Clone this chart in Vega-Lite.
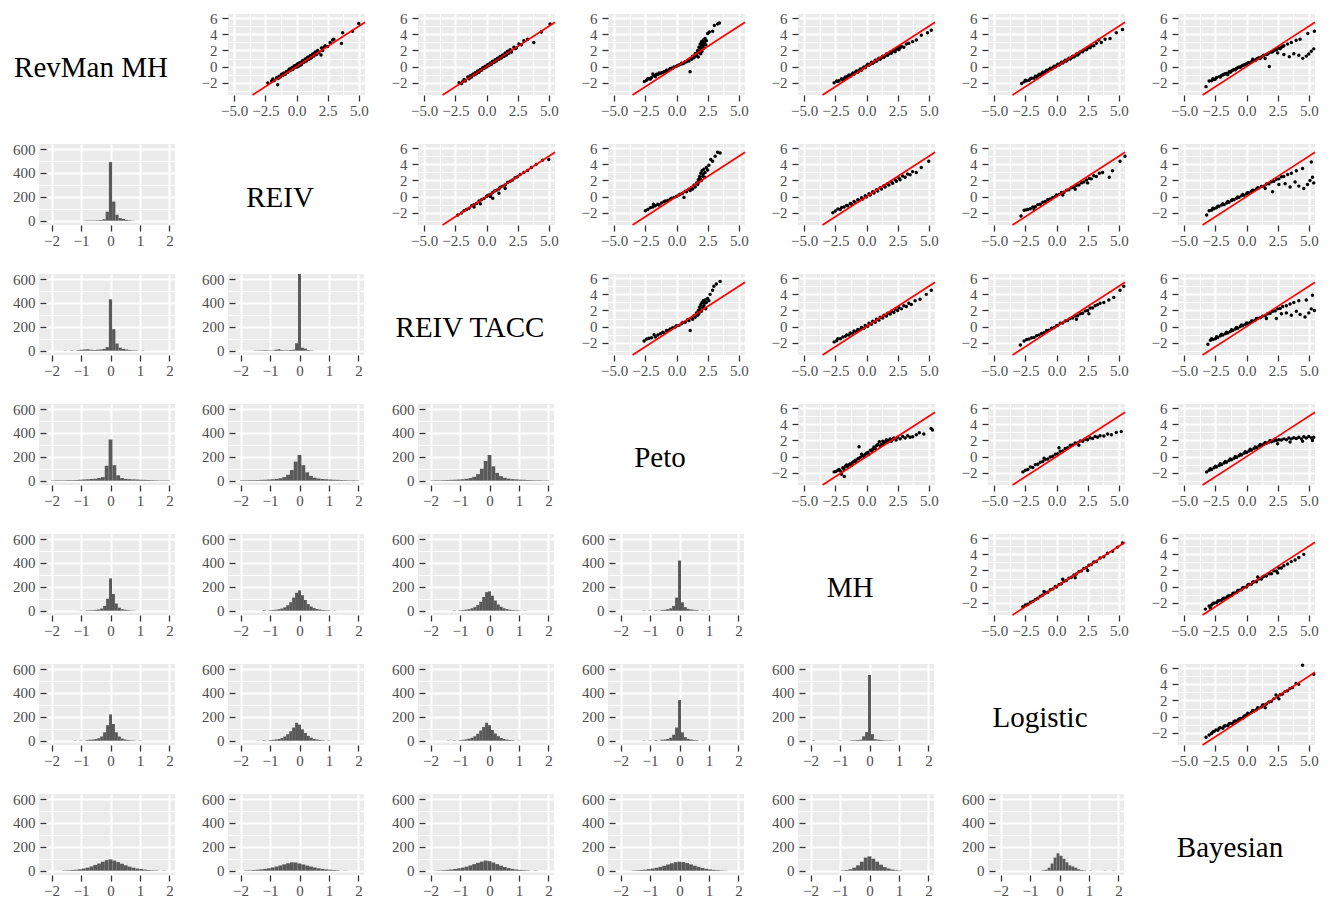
{
"$schema":"https://vega.github.io/schema/vega-lite/v6.json",
"padding":{"left":12,"top":11,"right":0,"bottom":0},
"background":"#FFFFFF",
"columns":7,
"bounds":"flush",
"spacing":{"row":22,"column":53},
"config":{
"view":{"stroke":null,"fill":"#EBEBEB"},
"axis":{"domain":false,"labelFont":"Liberation Serif","labelFontSize":15,"labelColor":"#4D4D4D","tickColor":"#333333","tickSize":6,"tickWidth":1.3,"labelPadding":5,"gridColor":"#FFFFFF","labelFlush":false,"labelOverlap":false,"labelBound":false},
"axisX":{"labelPadding":2},
"axisY":{"labelPadding":5},
"text":{"font":"Liberation Serif","fontSize":29,"color":"#000000","align":"center","baseline":"middle"}
},
"datasets":{
"idl":[{"x":-3.53,"y":-3.53},{"x":5.5,"y":5.5}],
"s01":[{"x":-2.3,"y":-2.05},{"x":-2.0,"y":-1.8},{"x":-1.9,"y":-1.55},{"x":-1.8,"y":-1.75},{"x":-1.6,"y":-1.4},{"x":-1.51,"y":-2.27},{"x":-1.45,"y":-1.45},{"x":-1.4,"y":-1.2},{"x":-1.3,"y":-1.3},{"x":-1.2,"y":-0.95},{"x":-1.1,"y":-1.1},{"x":-1.05,"y":-0.9},{"x":-1.0,"y":-0.8},{"x":-0.9,"y":-0.95},{"x":-0.8,"y":-0.6},{"x":-0.7,"y":-0.7},{"x":-0.65,"y":-0.55},{"x":-0.6,"y":-0.35},{"x":-0.55,"y":-0.3},{"x":-0.5,"y":-0.5},{"x":-0.4,"y":-0.2},{"x":-0.35,"y":-0.1},{"x":-0.3,"y":-0.35},{"x":-0.25,"y":-0.2},{"x":-0.2,"y":0.0},{"x":-0.15,"y":0.1},{"x":-0.1,"y":-0.1},{"x":0.0,"y":0.2},{"x":0.05,"y":-0.05},{"x":0.1,"y":0.35},{"x":0.15,"y":0.05},{"x":0.2,"y":0.15},{"x":0.25,"y":0.45},{"x":0.3,"y":0.5},{"x":0.35,"y":0.2},{"x":0.4,"y":0.3},{"x":0.45,"y":0.6},{"x":0.5,"y":0.75},{"x":0.6,"y":0.55},{"x":0.7,"y":0.95},{"x":0.75,"y":0.85},{"x":0.8,"y":0.7},{"x":0.85,"y":0.95},{"x":0.9,"y":1.15},{"x":1.0,"y":0.9},{"x":1.05,"y":1.2},{"x":1.1,"y":1.35},{"x":1.15,"y":1.05},{"x":1.2,"y":1.1},{"x":1.25,"y":1.4},{"x":1.3,"y":1.55},{"x":1.4,"y":1.3},{"x":1.45,"y":1.6},{"x":1.5,"y":1.8},{"x":1.6,"y":1.5},{"x":1.7,"y":2.0},{"x":1.75,"y":1.8},{"x":1.8,"y":1.7},{"x":1.97,"y":1.44},{"x":2.0,"y":2.3},{"x":2.1,"y":2.0},{"x":2.2,"y":2.4},{"x":2.3,"y":2.6},{"x":2.5,"y":2.5},{"x":2.7,"y":3.0},{"x":2.9,"y":3.3},{"x":3.0,"y":3.4},{"x":3.61,"y":2.88},{"x":3.71,"y":4.2},{"x":4.5,"y":4.4},{"x":5.0,"y":5.35}],
"s02":[{"x":-2.2,"y":-2.0},{"x":-2.0,"y":-2.1},{"x":-1.9,"y":-1.85},{"x":-1.8,"y":-1.6},{"x":-1.7,"y":-1.8},{"x":-1.5,"y":-1.3},{"x":-1.4,"y":-1.5},{"x":-1.35,"y":-1.35},{"x":-1.3,"y":-1.15},{"x":-1.2,"y":-1.3},{"x":-1.1,"y":-0.95},{"x":-1.0,"y":-1.05},{"x":-0.95,"y":-0.9},{"x":-0.9,"y":-0.75},{"x":-0.8,"y":-0.9},{"x":-0.7,"y":-0.55},{"x":-0.6,"y":-0.7},{"x":-0.55,"y":-0.5},{"x":-0.5,"y":-0.35},{"x":-0.4,"y":-0.45},{"x":-0.3,"y":-0.15},{"x":-0.2,"y":-0.25},{"x":-0.15,"y":-0.1},{"x":-0.1,"y":0.05},{"x":0.0,"y":-0.05},{"x":0.1,"y":0.25},{"x":0.2,"y":0.1},{"x":0.25,"y":0.3},{"x":0.3,"y":0.45},{"x":0.4,"y":0.3},{"x":0.45,"y":0.5},{"x":0.5,"y":0.65},{"x":0.6,"y":0.5},{"x":0.65,"y":0.6},{"x":0.7,"y":0.85},{"x":0.8,"y":0.7},{"x":0.85,"y":0.9},{"x":0.9,"y":1.05},{"x":1.0,"y":0.9},{"x":1.05,"y":1.1},{"x":1.1,"y":1.25},{"x":1.2,"y":1.05},{"x":1.3,"y":1.45},{"x":1.4,"y":1.25},{"x":1.45,"y":1.4},{"x":1.5,"y":1.7},{"x":1.6,"y":1.45},{"x":1.7,"y":1.9},{"x":1.8,"y":1.65},{"x":1.85,"y":1.9},{"x":1.9,"y":2.1},{"x":2.0,"y":1.8},{"x":2.2,"y":2.4},{"x":2.3,"y":2.2},{"x":2.4,"y":2.3},{"x":2.6,"y":2.8},{"x":2.8,"y":2.7},{"x":3.0,"y":3.2},{"x":3.3,"y":3.4},{"x":3.8,"y":3.0},{"x":4.4,"y":4.3},{"x":5.1,"y":5.3}],
"s03":[{"x":-2.58,"y":-1.86},{"x":-2.4,"y":-1.7},{"x":-2.3,"y":-1.5},{"x":-2.2,"y":-1.5},{"x":-2.1,"y":-1.55},{"x":-2.0,"y":-1.35},{"x":-1.9,"y":-0.91},{"x":-1.8,"y":-1.1},{"x":-1.7,"y":-1.25},{"x":-1.6,"y":-0.95},{"x":-1.5,"y":-1.0},{"x":-1.4,"y":-0.8},{"x":-1.3,"y":-0.85},{"x":-1.2,"y":-0.75},{"x":-1.1,"y":-0.75},{"x":-1.0,"y":-0.6},{"x":-0.9,"y":-0.7},{"x":-0.8,"y":-0.45},{"x":-0.7,"y":-0.5},{"x":-0.6,"y":-0.4},{"x":-0.5,"y":-0.25},{"x":-0.4,"y":-0.2},{"x":-0.3,"y":-0.2},{"x":-0.2,"y":-0.05},{"x":0.0,"y":0.05},{"x":0.1,"y":0.15},{"x":0.2,"y":0.2},{"x":0.3,"y":0.25},{"x":0.4,"y":0.4},{"x":0.5,"y":0.35},{"x":0.6,"y":0.45},{"x":0.7,"y":0.6},{"x":0.8,"y":0.6},{"x":0.9,"y":0.8},{"x":1.0,"y":0.7},{"x":1.09,"y":-0.63},{"x":1.1,"y":1.0},{"x":1.2,"y":0.9},{"x":1.25,"y":1.0},{"x":1.3,"y":1.3},{"x":1.4,"y":1.1},{"x":1.5,"y":1.6},{"x":1.55,"y":1.3},{"x":1.6,"y":1.4},{"x":1.65,"y":1.7},{"x":1.7,"y":2.0},{"x":1.75,"y":1.2},{"x":1.8,"y":2.4},{"x":1.8,"y":1.9},{"x":1.85,"y":1.7},{"x":1.9,"y":2.8},{"x":1.9,"y":2.4},{"x":1.95,"y":2.2},{"x":1.95,"y":1.6},{"x":2.0,"y":3.1},{"x":2.0,"y":2.6},{"x":2.05,"y":1.9},{"x":2.1,"y":2.6},{"x":2.1,"y":2.9},{"x":2.15,"y":3.3},{"x":2.2,"y":2.3},{"x":2.2,"y":2.7},{"x":2.25,"y":3.0},{"x":2.3,"y":3.5},{"x":2.35,"y":2.7},{"x":2.4,"y":3.2},{"x":2.5,"y":4.1},{"x":2.64,"y":4.3},{"x":2.9,"y":4.4},{"x":3.04,"y":5.1},{"x":3.3,"y":5.3},{"x":3.44,"y":5.4}],
"s04":[{"x":-2.6,"y":-2.0},{"x":-2.4,"y":-1.8},{"x":-2.3,"y":-1.85},{"x":-2.2,"y":-1.75},{"x":-2.0,"y":-1.5},{"x":-1.9,"y":-1.7},{"x":-1.8,"y":-1.5},{"x":-1.7,"y":-1.3},{"x":-1.6,"y":-1.45},{"x":-1.5,"y":-1.2},{"x":-1.4,"y":-1.05},{"x":-1.3,"y":-1.2},{"x":-1.2,"y":-1.0},{"x":-1.1,"y":-0.8},{"x":-1.0,"y":-0.95},{"x":-0.9,"y":-0.7},{"x":-0.8,"y":-0.55},{"x":-0.7,"y":-0.7},{"x":-0.6,"y":-0.5},{"x":-0.5,"y":-0.3},{"x":-0.4,"y":-0.45},{"x":-0.3,"y":-0.2},{"x":-0.2,"y":-0.05},{"x":-0.1,"y":-0.15},{"x":0.0,"y":0.1},{"x":0.1,"y":0.3},{"x":0.2,"y":0.15},{"x":0.3,"y":0.3},{"x":0.4,"y":0.55},{"x":0.5,"y":0.4},{"x":0.6,"y":0.55},{"x":0.7,"y":0.8},{"x":0.8,"y":0.65},{"x":0.9,"y":0.85},{"x":1.0,"y":1.05},{"x":1.1,"y":0.9},{"x":1.2,"y":1.1},{"x":1.3,"y":1.3},{"x":1.4,"y":1.15},{"x":1.5,"y":1.35},{"x":1.6,"y":1.55},{"x":1.7,"y":1.4},{"x":1.8,"y":1.6},{"x":1.9,"y":1.8},{"x":2.0,"y":1.65},{"x":2.1,"y":1.9},{"x":2.2,"y":2.05},{"x":2.3,"y":1.85},{"x":2.4,"y":2.15},{"x":2.5,"y":2.3},{"x":2.6,"y":2.1},{"x":2.7,"y":2.35},{"x":2.8,"y":2.5},{"x":3.0,"y":2.4},{"x":3.2,"y":2.8},{"x":3.4,"y":2.9},{"x":3.7,"y":3.1},{"x":4.0,"y":3.3},{"x":4.4,"y":3.9},{"x":4.9,"y":4.2},{"x":5.2,"y":4.5}],
"s05":[{"x":-2.8,"y":-2.1},{"x":-2.6,"y":-1.9},{"x":-2.5,"y":-1.7},{"x":-2.4,"y":-1.75},{"x":-2.2,"y":-1.7},{"x":-2.1,"y":-1.5},{"x":-2.0,"y":-1.45},{"x":-1.8,"y":-1.45},{"x":-1.7,"y":-1.2},{"x":-1.6,"y":-1.3},{"x":-1.5,"y":-1.15},{"x":-1.4,"y":-0.95},{"x":-1.3,"y":-1.0},{"x":-1.2,"y":-0.9},{"x":-1.1,"y":-0.7},{"x":-1.0,"y":-0.75},{"x":-0.9,"y":-0.65},{"x":-0.8,"y":-0.45},{"x":-0.7,"y":-0.5},{"x":-0.6,"y":-0.4},{"x":-0.5,"y":-0.2},{"x":-0.4,"y":-0.3},{"x":-0.3,"y":-0.15},{"x":-0.2,"y":0.05},{"x":-0.1,"y":-0.05},{"x":0.0,"y":0.1},{"x":0.1,"y":0.3},{"x":0.2,"y":0.2},{"x":0.3,"y":0.35},{"x":0.4,"y":0.55},{"x":0.5,"y":0.45},{"x":0.6,"y":0.6},{"x":0.7,"y":0.8},{"x":0.8,"y":0.7},{"x":0.9,"y":0.85},{"x":1.0,"y":1.05},{"x":1.1,"y":0.95},{"x":1.2,"y":1.1},{"x":1.3,"y":1.3},{"x":1.4,"y":1.2},{"x":1.5,"y":1.35},{"x":1.6,"y":1.55},{"x":1.7,"y":1.45},{"x":1.8,"y":1.6},{"x":1.9,"y":1.8},{"x":2.1,"y":1.85},{"x":2.2,"y":2.05},{"x":2.4,"y":2.1},{"x":2.5,"y":2.3},{"x":2.7,"y":2.35},{"x":2.8,"y":2.6},{"x":3.0,"y":2.6},{"x":3.2,"y":2.9},{"x":3.4,"y":3.3},{"x":3.6,"y":3.0},{"x":3.9,"y":3.4},{"x":4.3,"y":3.5},{"x":4.8,"y":4.2},{"x":5.3,"y":4.6}],
"s06":[{"x":-3.25,"y":-2.49},{"x":-3.0,"y":-1.8},{"x":-2.8,"y":-1.75},{"x":-2.7,"y":-1.5},{"x":-2.6,"y":-1.6},{"x":-2.5,"y":-1.55},{"x":-2.4,"y":-1.35},{"x":-2.2,"y":-1.25},{"x":-2.1,"y":-1.3},{"x":-2.0,"y":-1.1},{"x":-1.9,"y":-1.05},{"x":-1.8,"y":-0.95},{"x":-1.7,"y":-0.9},{"x":-1.6,"y":-0.85},{"x":-1.5,"y":-1.0},{"x":-1.4,"y":-0.65},{"x":-1.3,"y":-0.7},{"x":-1.2,"y":-0.55},{"x":-1.1,"y":-0.45},{"x":-1.0,"y":-0.35},{"x":-0.9,"y":-0.4},{"x":-0.8,"y":-0.25},{"x":-0.7,"y":-0.15},{"x":-0.6,"y":-0.05},{"x":-0.5,"y":-0.1},{"x":-0.4,"y":0.05},{"x":-0.3,"y":0.15},{"x":-0.2,"y":0.2},{"x":-0.1,"y":0.25},{"x":0.0,"y":0.35},{"x":0.1,"y":0.45},{"x":0.2,"y":0.5},{"x":0.3,"y":0.5},{"x":0.4,"y":0.6},{"x":0.5,"y":0.9},{"x":0.6,"y":0.8},{"x":0.7,"y":0.75},{"x":0.8,"y":0.9},{"x":0.9,"y":1.0},{"x":1.0,"y":1.1},{"x":1.1,"y":1.0},{"x":1.2,"y":1.2},{"x":1.3,"y":1.3},{"x":1.4,"y":1.4},{"x":1.5,"y":1.0},{"x":1.6,"y":1.5},{"x":1.7,"y":1.55},{"x":1.8,"y":1.7},{"x":1.83,"y":0.0},{"x":2.0,"y":1.8},{"x":2.1,"y":1.85},{"x":2.2,"y":2.0},{"x":2.3,"y":2.1},{"x":2.4,"y":2.1},{"x":2.5,"y":1.7},{"x":2.6,"y":2.3},{"x":2.7,"y":2.2},{"x":2.8,"y":2.4},{"x":2.9,"y":2.5},{"x":3.0,"y":2.6},{"x":3.0,"y":1.5},{"x":3.3,"y":2.8},{"x":3.44,"y":1.22},{"x":3.6,"y":3.0},{"x":3.8,"y":1.6},{"x":3.98,"y":3.28},{"x":4.2,"y":1.4},{"x":4.3,"y":3.4},{"x":4.52,"y":1.02},{"x":4.8,"y":1.3},{"x":4.92,"y":4.1},{"x":5.0,"y":1.55},{"x":5.2,"y":1.9},{"x":5.4,"y":2.2},{"x":5.45,"y":4.4}],
"s12":[{"x":-2.3,"y":-2.3},{"x":-2.0,"y":-2.05},{"x":-1.8,"y":-1.75},{"x":-1.6,"y":-1.6},{"x":-1.4,"y":-1.45},{"x":-1.2,"y":-1.15},{"x":-1.0,"y":-1.0},{"x":-1.0,"y":-1.3},{"x":-0.8,"y":-0.85},{"x":-0.6,"y":-0.55},{"x":-0.5,"y":-0.9},{"x":-0.4,"y":-0.4},{"x":-0.2,"y":-0.25},{"x":0.0,"y":0.0},{"x":0.1,"y":0.15},{"x":0.2,"y":0.2},{"x":0.3,"y":0.0},{"x":0.35,"y":0.3},{"x":0.5,"y":0.5},{"x":0.5,"y":-0.2},{"x":0.65,"y":0.7},{"x":0.8,"y":0.8},{"x":1.0,"y":0.95},{"x":1.0,"y":0.4},{"x":1.1,"y":1.15},{"x":1.3,"y":1.3},{"x":1.5,"y":1.45},{"x":1.5,"y":1.0},{"x":1.7,"y":1.75},{"x":1.9,"y":1.9},{"x":2.1,"y":2.05},{"x":2.3,"y":2.35},{"x":2.5,"y":2.45},{"x":2.7,"y":2.75},{"x":3.0,"y":3.0},{"x":3.3,"y":3.25},{"x":3.6,"y":3.6},{"x":4.0,"y":4.0},{"x":4.5,"y":4.5},{"x":5.0,"y":4.6}],
"s13":[{"x":-2.5,"y":-1.75},{"x":-2.3,"y":-1.6},{"x":-2.1,"y":-1.4},{"x":-1.9,"y":-1.3},{"x":-1.85,"y":-0.95},{"x":-1.7,"y":-1.15},{"x":-1.5,"y":-0.95},{"x":-1.4,"y":-1.05},{"x":-1.2,"y":-0.8},{"x":-1.0,"y":-0.65},{"x":-0.9,"y":-0.55},{"x":-0.7,"y":-0.5},{"x":-0.5,"y":-0.3},{"x":-0.4,"y":-0.2},{"x":-0.2,"y":-0.1},{"x":0.0,"y":0.05},{"x":0.2,"y":0.2},{"x":0.3,"y":0.3},{"x":0.5,"y":0.4},{"x":0.6,"y":-0.1},{"x":0.7,"y":0.65},{"x":0.8,"y":0.6},{"x":1.0,"y":0.9},{"x":1.1,"y":0.75},{"x":1.2,"y":1.1},{"x":1.3,"y":0.95},{"x":1.4,"y":1.4},{"x":1.5,"y":1.2},{"x":1.6,"y":1.7},{"x":1.7,"y":1.5},{"x":1.75,"y":2.1},{"x":1.8,"y":1.8},{"x":1.85,"y":2.5},{"x":1.9,"y":2.2},{"x":1.95,"y":2.9},{"x":2.0,"y":2.0},{"x":2.05,"y":3.2},{"x":2.1,"y":2.5},{"x":2.15,"y":2.8},{"x":2.2,"y":3.4},{"x":2.25,"y":2.4},{"x":2.3,"y":3.0},{"x":2.4,"y":3.6},{"x":2.5,"y":3.3},{"x":2.6,"y":3.9},{"x":2.75,"y":4.6},{"x":2.9,"y":4.4},{"x":3.1,"y":5.0},{"x":3.3,"y":5.5},{"x":3.5,"y":5.4}],
"s14":[{"x":-2.7,"y":-2.0},{"x":-2.5,"y":-1.8},{"x":-2.3,"y":-1.55},{"x":-2.1,"y":-1.6},{"x":-2.0,"y":-1.35},{"x":-1.8,"y":-1.3},{"x":-1.6,"y":-1.1},{"x":-1.5,"y":-1.15},{"x":-1.3,"y":-0.85},{"x":-1.2,"y":-0.95},{"x":-1.0,"y":-0.6},{"x":-0.9,"y":-0.75},{"x":-0.7,"y":-0.4},{"x":-0.6,"y":-0.5},{"x":-0.4,"y":-0.15},{"x":-0.3,"y":-0.3},{"x":-0.1,"y":0.1},{"x":0.0,"y":-0.05},{"x":0.2,"y":0.35},{"x":0.3,"y":0.2},{"x":0.5,"y":0.6},{"x":0.6,"y":0.45},{"x":0.8,"y":0.85},{"x":0.9,"y":0.7},{"x":1.1,"y":1.1},{"x":1.2,"y":0.95},{"x":1.4,"y":1.35},{"x":1.5,"y":1.2},{"x":1.7,"y":1.6},{"x":1.8,"y":1.45},{"x":2.0,"y":1.85},{"x":2.1,"y":1.65},{"x":2.3,"y":2.1},{"x":2.4,"y":1.9},{"x":2.6,"y":2.3},{"x":2.7,"y":2.1},{"x":2.9,"y":2.55},{"x":3.1,"y":2.4},{"x":3.3,"y":2.8},{"x":3.5,"y":2.7},{"x":3.7,"y":3.1},{"x":4.0,"y":3.0},{"x":4.4,"y":3.6},{"x":5.0,"y":4.4}],
"s15":[{"x":-2.85,"y":-2.4},{"x":-2.6,"y":-1.7},{"x":-2.45,"y":-1.65},{"x":-2.3,"y":-1.6},{"x":-2.1,"y":-1.5},{"x":-1.9,"y":-1.3},{"x":-1.8,"y":-1.6},{"x":-1.7,"y":-1.25},{"x":-1.5,"y":-1.0},{"x":-1.3,"y":-0.95},{"x":-1.1,"y":-0.7},{"x":-0.9,"y":-0.6},{"x":-0.7,"y":-0.4},{"x":-0.5,"y":-0.3},{"x":-0.3,"y":-0.1},{"x":-0.1,"y":0.0},{"x":0.0,"y":0.2},{"x":0.2,"y":0.25},{"x":0.4,"y":0.5},{"x":0.5,"y":0.2},{"x":0.6,"y":0.55},{"x":0.8,"y":0.8},{"x":1.0,"y":0.85},{"x":1.2,"y":1.1},{"x":1.4,"y":1.15},{"x":1.5,"y":0.9},{"x":1.6,"y":1.4},{"x":1.8,"y":1.45},{"x":2.0,"y":1.7},{"x":2.2,"y":1.8},{"x":2.4,"y":2.05},{"x":2.5,"y":1.7},{"x":2.64,"y":2.26},{"x":2.8,"y":2.2},{"x":3.0,"y":2.6},{"x":3.2,"y":2.5},{"x":3.44,"y":2.9},{"x":3.7,"y":3.0},{"x":4.24,"y":2.4},{"x":4.5,"y":3.2},{"x":5.1,"y":4.4},{"x":5.5,"y":5.0}],
"s16":[{"x":-3.2,"y":-2.3},{"x":-3.0,"y":-1.75},{"x":-2.8,"y":-1.7},{"x":-2.7,"y":-1.45},{"x":-2.6,"y":-1.5},{"x":-2.4,"y":-1.4},{"x":-2.3,"y":-1.2},{"x":-2.2,"y":-1.2},{"x":-2.0,"y":-1.05},{"x":-1.9,"y":-0.9},{"x":-1.8,"y":-1.0},{"x":-1.6,"y":-0.8},{"x":-1.5,"y":-0.6},{"x":-1.4,"y":-0.7},{"x":-1.2,"y":-0.5},{"x":-1.1,"y":-0.35},{"x":-1.0,"y":-0.4},{"x":-0.8,"y":-0.2},{"x":-0.7,"y":-0.05},{"x":-0.6,"y":-0.1},{"x":-0.4,"y":0.1},{"x":-0.3,"y":0.25},{"x":-0.2,"y":0.15},{"x":0.0,"y":0.35},{"x":0.1,"y":0.5},{"x":0.2,"y":0.45},{"x":0.4,"y":0.65},{"x":0.5,"y":0.8},{"x":0.6,"y":0.75},{"x":0.8,"y":0.95},{"x":0.9,"y":1.1},{"x":1.0,"y":1.05},{"x":1.2,"y":1.25},{"x":1.4,"y":1.3},{"x":1.5,"y":1.0},{"x":1.6,"y":1.55},{"x":1.8,"y":1.6},{"x":2.0,"y":1.85},{"x":2.1,"y":0.6},{"x":2.2,"y":1.9},{"x":2.4,"y":2.15},{"x":2.6,"y":2.2},{"x":2.6,"y":1.5},{"x":2.8,"y":2.45},{"x":3.0,"y":2.5},{"x":3.1,"y":1.6},{"x":3.3,"y":2.75},{"x":3.5,"y":1.2},{"x":3.6,"y":2.9},{"x":3.9,"y":1.8},{"x":4.0,"y":3.2},{"x":4.2,"y":1.3},{"x":4.5,"y":3.5},{"x":4.6,"y":1.0},{"x":4.9,"y":1.5},{"x":5.1,"y":2.0},{"x":5.2,"y":4.3},{"x":5.3,"y":2.4},{"x":5.4,"y":1.7}],
"s23":[{"x":-2.6,"y":-1.8},{"x":-2.4,"y":-1.55},{"x":-2.2,"y":-1.45},{"x":-2.0,"y":-1.4},{"x":-1.8,"y":-1.0},{"x":-1.7,"y":-1.3},{"x":-1.5,"y":-1.05},{"x":-1.3,"y":-0.9},{"x":-1.1,"y":-0.7},{"x":-1.0,"y":-0.8},{"x":-0.8,"y":-0.5},{"x":-0.6,"y":-0.45},{"x":-0.5,"y":-0.3},{"x":-0.3,"y":-0.15},{"x":-0.1,"y":-0.05},{"x":0.0,"y":0.1},{"x":0.2,"y":0.15},{"x":0.4,"y":0.35},{"x":0.5,"y":0.5},{"x":0.7,"y":0.55},{"x":0.9,"y":0.85},{"x":1.0,"y":0.75},{"x":1.1,"y":-0.5},{"x":1.2,"y":1.05},{"x":1.3,"y":0.9},{"x":1.4,"y":1.35},{"x":1.5,"y":1.15},{"x":1.6,"y":1.7},{"x":1.7,"y":1.4},{"x":1.75,"y":2.0},{"x":1.8,"y":1.6},{"x":1.85,"y":2.4},{"x":1.9,"y":2.1},{"x":1.95,"y":2.7},{"x":2.0,"y":1.9},{"x":2.05,"y":3.0},{"x":2.1,"y":2.4},{"x":2.15,"y":3.2},{"x":2.2,"y":2.6},{"x":2.25,"y":2.9},{"x":2.3,"y":3.3},{"x":2.35,"y":2.2},{"x":2.4,"y":3.0},{"x":2.5,"y":3.5},{"x":2.6,"y":3.2},{"x":2.7,"y":4.0},{"x":2.9,"y":4.5},{"x":3.0,"y":5.0},{"x":3.2,"y":5.3},{"x":3.5,"y":5.6}],
"s24":[{"x":-2.6,"y":-1.9},{"x":-2.4,"y":-1.75},{"x":-2.3,"y":-1.5},{"x":-2.1,"y":-1.5},{"x":-1.9,"y":-1.3},{"x":-1.7,"y":-1.2},{"x":-1.6,"y":-1.05},{"x":-1.4,"y":-1.05},{"x":-1.3,"y":-0.8},{"x":-1.1,"y":-0.85},{"x":-1.0,"y":-0.55},{"x":-0.8,"y":-0.65},{"x":-0.7,"y":-0.35},{"x":-0.5,"y":-0.4},{"x":-0.4,"y":-0.1},{"x":-0.2,"y":-0.2},{"x":-0.1,"y":0.15},{"x":0.1,"y":0.05},{"x":0.2,"y":0.4},{"x":0.4,"y":0.3},{"x":0.5,"y":0.65},{"x":0.7,"y":0.55},{"x":0.8,"y":0.9},{"x":1.0,"y":0.8},{"x":1.1,"y":1.15},{"x":1.3,"y":1.05},{"x":1.4,"y":1.4},{"x":1.6,"y":1.3},{"x":1.7,"y":1.65},{"x":1.9,"y":1.55},{"x":2.0,"y":1.9},{"x":2.2,"y":1.75},{"x":2.3,"y":2.15},{"x":2.5,"y":2.0},{"x":2.6,"y":2.35},{"x":2.8,"y":2.2},{"x":3.0,"y":2.6},{"x":3.2,"y":2.5},{"x":3.4,"y":2.9},{"x":3.6,"y":2.75},{"x":3.9,"y":3.2},{"x":4.3,"y":3.4},{"x":4.8,"y":4.0},{"x":5.2,"y":4.5}],
"s25":[{"x":-2.9,"y":-2.3},{"x":-2.6,"y":-1.8},{"x":-2.4,"y":-1.6},{"x":-2.2,"y":-1.55},{"x":-2.0,"y":-1.4},{"x":-1.8,"y":-1.35},{"x":-1.6,"y":-1.15},{"x":-1.4,"y":-1.05},{"x":-1.2,"y":-0.85},{"x":-1.0,"y":-0.75},{"x":-0.8,"y":-0.5},{"x":-0.6,"y":-0.45},{"x":-0.4,"y":-0.2},{"x":-0.2,"y":-0.15},{"x":0.0,"y":0.1},{"x":0.1,"y":0.15},{"x":0.3,"y":0.4},{"x":0.5,"y":0.45},{"x":0.7,"y":0.7},{"x":0.9,"y":0.75},{"x":1.1,"y":1.0},{"x":1.3,"y":1.05},{"x":1.5,"y":1.3},{"x":1.6,"y":0.9},{"x":1.7,"y":1.35},{"x":1.9,"y":1.6},{"x":2.1,"y":1.65},{"x":2.3,"y":1.95},{"x":2.5,"y":2.0},{"x":2.6,"y":1.6},{"x":2.7,"y":2.3},{"x":2.9,"y":2.3},{"x":3.1,"y":2.6},{"x":3.3,"y":2.7},{"x":3.5,"y":2.9},{"x":3.8,"y":3.0},{"x":4.2,"y":3.3},{"x":4.6,"y":3.6},{"x":5.1,"y":4.5},{"x":5.4,"y":5.0}],
"s26":[{"x":-3.1,"y":-2.2},{"x":-2.9,"y":-1.7},{"x":-2.8,"y":-1.5},{"x":-2.7,"y":-1.6},{"x":-2.5,"y":-1.5},{"x":-2.4,"y":-1.25},{"x":-2.3,"y":-1.35},{"x":-2.1,"y":-1.15},{"x":-2.0,"y":-0.95},{"x":-1.9,"y":-1.05},{"x":-1.7,"y":-0.9},{"x":-1.6,"y":-0.7},{"x":-1.5,"y":-0.8},{"x":-1.3,"y":-0.6},{"x":-1.2,"y":-0.4},{"x":-1.1,"y":-0.5},{"x":-0.9,"y":-0.3},{"x":-0.8,"y":-0.1},{"x":-0.7,"y":-0.2},{"x":-0.5,"y":0.0},{"x":-0.4,"y":0.2},{"x":-0.3,"y":0.1},{"x":-0.1,"y":0.25},{"x":0.0,"y":0.45},{"x":0.1,"y":0.4},{"x":0.3,"y":0.5},{"x":0.4,"y":0.7},{"x":0.5,"y":0.7},{"x":0.7,"y":0.8},{"x":0.8,"y":1.0},{"x":0.9,"y":1.0},{"x":1.1,"y":1.1},{"x":1.3,"y":1.3},{"x":1.5,"y":1.35},{"x":1.6,"y":1.0},{"x":1.7,"y":1.6},{"x":1.9,"y":1.65},{"x":2.1,"y":1.9},{"x":2.3,"y":1.95},{"x":2.4,"y":1.0},{"x":2.5,"y":2.2},{"x":2.7,"y":2.25},{"x":2.8,"y":1.6},{"x":2.9,"y":2.5},{"x":3.2,"y":2.6},{"x":3.2,"y":1.7},{"x":3.5,"y":2.8},{"x":3.6,"y":1.4},{"x":3.8,"y":3.0},{"x":4.0,"y":1.9},{"x":4.2,"y":3.2},{"x":4.3,"y":1.5},{"x":4.7,"y":1.2},{"x":4.8,"y":3.3},{"x":5.0,"y":1.7},{"x":5.2,"y":2.2},{"x":5.3,"y":3.9},{"x":5.45,"y":2.0}],
"s34":[{"x":-2.6,"y":-1.9},{"x":-2.45,"y":-1.86},{"x":-2.3,"y":-1.7},{"x":-2.2,"y":-1.6},{"x":-2.1,"y":-1.8},{"x":-2.0,"y":-2.2},{"x":-1.78,"y":-2.48},{"x":-1.9,"y":-1.4},{"x":-1.8,"y":-1.6},{"x":-1.7,"y":-1.2},{"x":-1.6,"y":-1.05},{"x":-1.5,"y":-1.3},{"x":-1.4,"y":-1.0},{"x":-1.3,"y":-0.9},{"x":-1.2,"y":-1.1},{"x":-1.1,"y":-0.7},{"x":-1.0,"y":-0.6},{"x":-0.9,"y":-0.45},{"x":-0.84,"y":-0.63},{"x":-0.7,"y":-0.3},{"x":-0.6,"y":1.22},{"x":-0.6,"y":-0.2},{"x":-0.5,"y":-0.1},{"x":-0.4,"y":0.3},{"x":-0.3,"y":0.1},{"x":-0.2,"y":0.0},{"x":-0.1,"y":0.3},{"x":0.0,"y":0.4},{"x":0.1,"y":0.5},{"x":0.2,"y":0.3},{"x":0.3,"y":0.8},{"x":0.4,"y":0.7},{"x":0.5,"y":0.9},{"x":0.6,"y":1.2},{"x":0.7,"y":1.0},{"x":0.8,"y":1.35},{"x":0.9,"y":1.5},{"x":1.03,"y":1.84},{"x":1.1,"y":1.3},{"x":1.2,"y":1.5},{"x":1.3,"y":1.9},{"x":1.4,"y":1.6},{"x":1.5,"y":1.85},{"x":1.6,"y":2.1},{"x":1.7,"y":1.8},{"x":1.8,"y":2.0},{"x":1.9,"y":2.2},{"x":2.0,"y":1.9},{"x":2.1,"y":2.15},{"x":2.2,"y":2.3},{"x":2.37,"y":2.05},{"x":2.5,"y":2.4},{"x":2.7,"y":2.2},{"x":2.9,"y":2.5},{"x":3.1,"y":2.3},{"x":3.3,"y":2.6},{"x":3.5,"y":2.4},{"x":3.71,"y":2.46},{"x":4.0,"y":2.7},{"x":4.24,"y":2.95},{"x":4.6,"y":2.8},{"x":5.18,"y":3.5},{"x":5.3,"y":3.3}],
"s35":[{"x":-2.7,"y":-1.9},{"x":-2.5,"y":-1.7},{"x":-2.3,"y":-1.6},{"x":-2.1,"y":-1.3},{"x":-1.9,"y":-1.35},{"x":-1.7,"y":-1.0},{"x":-1.5,"y":-0.95},{"x":-1.3,"y":-0.7},{"x":-1.1,"y":-0.6},{"x":-1.0,"y":-0.2},{"x":-0.9,"y":-0.35},{"x":-0.7,"y":-0.3},{"x":-0.5,"y":-0.05},{"x":-0.3,"y":0.05},{"x":-0.1,"y":0.3},{"x":0.1,"y":0.35},{"x":0.2,"y":1.1},{"x":0.3,"y":0.65},{"x":0.5,"y":0.7},{"x":0.7,"y":1.0},{"x":0.9,"y":1.1},{"x":1.1,"y":1.4},{"x":1.3,"y":1.45},{"x":1.5,"y":1.7},{"x":1.7,"y":1.7},{"x":1.8,"y":1.4},{"x":1.9,"y":1.95},{"x":2.1,"y":1.9},{"x":2.3,"y":2.15},{"x":2.5,"y":2.1},{"x":2.7,"y":2.35},{"x":2.9,"y":2.25},{"x":3.1,"y":2.5},{"x":3.3,"y":2.4},{"x":3.5,"y":2.6},{"x":3.8,"y":2.55},{"x":4.1,"y":2.8},{"x":4.4,"y":2.7},{"x":4.8,"y":3.0},{"x":5.2,"y":3.1}],
"s36":[{"x":-3.2,"y":-1.9},{"x":-3.0,"y":-1.7},{"x":-2.9,"y":-1.5},{"x":-2.8,"y":-1.6},{"x":-2.6,"y":-1.4},{"x":-2.5,"y":-1.2},{"x":-2.4,"y":-1.3},{"x":-2.2,"y":-1.1},{"x":-2.1,"y":-0.9},{"x":-2.0,"y":-1.0},{"x":-1.8,"y":-0.8},{"x":-1.7,"y":-0.6},{"x":-1.6,"y":-0.7},{"x":-1.4,"y":-0.5},{"x":-1.3,"y":-0.3},{"x":-1.2,"y":-0.4},{"x":-1.0,"y":-0.2},{"x":-0.9,"y":0.0},{"x":-0.8,"y":-0.1},{"x":-0.6,"y":0.1},{"x":-0.5,"y":0.3},{"x":-0.4,"y":0.2},{"x":-0.2,"y":0.4},{"x":-0.1,"y":0.6},{"x":0.0,"y":0.5},{"x":0.2,"y":0.7},{"x":0.3,"y":0.9},{"x":0.4,"y":0.8},{"x":0.6,"y":1.0},{"x":0.7,"y":1.2},{"x":0.8,"y":1.1},{"x":1.0,"y":1.3},{"x":1.1,"y":1.5},{"x":1.2,"y":1.4},{"x":1.4,"y":1.55},{"x":1.5,"y":1.75},{"x":1.6,"y":1.65},{"x":1.8,"y":1.8},{"x":1.9,"y":2.0},{"x":2.0,"y":1.85},{"x":2.2,"y":1.95},{"x":2.3,"y":2.15},{"x":2.4,"y":2.0},{"x":2.5,"y":1.6},{"x":2.6,"y":2.1},{"x":2.8,"y":2.05},{"x":3.0,"y":2.2},{"x":3.2,"y":2.1},{"x":3.4,"y":2.3},{"x":3.5,"y":1.8},{"x":3.6,"y":2.2},{"x":3.8,"y":2.35},{"x":4.0,"y":2.25},{"x":4.2,"y":2.4},{"x":4.4,"y":2.2},{"x":4.5,"y":1.9},{"x":4.6,"y":2.45},{"x":4.8,"y":2.3},{"x":5.0,"y":2.5},{"x":5.2,"y":2.3},{"x":5.3,"y":2.0},{"x":5.4,"y":2.4}],
"s45":[{"x":-2.7,"y":-2.5},{"x":-2.5,"y":-2.3},{"x":-2.3,"y":-2.2},{"x":-2.1,"y":-1.95},{"x":-1.9,"y":-1.85},{"x":-1.7,"y":-1.6},{"x":-1.5,"y":-1.45},{"x":-1.3,"y":-1.2},{"x":-1.1,"y":-1.05},{"x":-1.0,"y":-0.6},{"x":-0.9,"y":-0.8},{"x":-0.7,"y":-0.7},{"x":-0.5,"y":-0.4},{"x":-0.3,"y":-0.3},{"x":-0.1,"y":0.0},{"x":0.0,"y":-0.05},{"x":0.2,"y":0.25},{"x":0.4,"y":0.35},{"x":0.5,"y":0.9},{"x":0.6,"y":0.65},{"x":0.8,"y":0.75},{"x":1.0,"y":1.05},{"x":1.2,"y":1.15},{"x":1.4,"y":1.45},{"x":1.5,"y":1.1},{"x":1.6,"y":1.55},{"x":1.8,"y":1.85},{"x":2.0,"y":1.95},{"x":2.2,"y":2.25},{"x":2.4,"y":2.35},{"x":2.5,"y":2.0},{"x":2.6,"y":2.65},{"x":2.8,"y":2.75},{"x":3.0,"y":3.05},{"x":3.2,"y":3.1},{"x":3.5,"y":3.55},{"x":3.8,"y":3.7},{"x":4.1,"y":4.15},{"x":4.5,"y":4.4},{"x":4.9,"y":4.9},{"x":5.3,"y":5.4}],
"s46":[{"x":-3.3,"y":-2.8},{"x":-3.0,"y":-2.4},{"x":-2.9,"y":-2.7},{"x":-2.8,"y":-2.3},{"x":-2.7,"y":-2.1},{"x":-2.6,"y":-2.05},{"x":-2.4,"y":-2.0},{"x":-2.3,"y":-1.8},{"x":-2.2,"y":-1.75},{"x":-2.0,"y":-1.7},{"x":-1.9,"y":-1.5},{"x":-1.8,"y":-1.45},{"x":-1.6,"y":-1.4},{"x":-1.5,"y":-1.2},{"x":-1.4,"y":-1.15},{"x":-1.2,"y":-1.1},{"x":-1.1,"y":-0.85},{"x":-1.0,"y":-0.8},{"x":-0.8,"y":-0.75},{"x":-0.7,"y":-0.5},{"x":-0.6,"y":-0.45},{"x":-0.4,"y":-0.4},{"x":-0.3,"y":-0.15},{"x":-0.2,"y":-0.1},{"x":0.0,"y":-0.05},{"x":0.1,"y":0.2},{"x":0.2,"y":0.25},{"x":0.4,"y":0.3},{"x":0.5,"y":0.55},{"x":0.6,"y":0.6},{"x":0.8,"y":0.6},{"x":0.9,"y":1.2},{"x":1.0,"y":0.95},{"x":1.2,"y":0.95},{"x":1.3,"y":1.2},{"x":1.4,"y":1.3},{"x":1.6,"y":1.3},{"x":1.8,"y":1.6},{"x":2.0,"y":1.6},{"x":2.2,"y":1.95},{"x":2.4,"y":1.95},{"x":2.5,"y":1.7},{"x":2.6,"y":2.3},{"x":2.8,"y":2.3},{"x":3.0,"y":2.6},{"x":3.3,"y":2.8},{"x":3.6,"y":3.1},{"x":3.9,"y":3.3},{"x":4.2,"y":3.6},{"x":4.6,"y":4.0}],
"s56":[{"x":-3.25,"y":-2.56},{"x":-3.0,"y":-2.3},{"x":-2.8,"y":-2.1},{"x":-2.7,"y":-1.9},{"x":-2.6,"y":-1.85},{"x":-2.45,"y":-1.65},{"x":-2.3,"y":-1.7},{"x":-2.2,"y":-1.45},{"x":-2.1,"y":-1.4},{"x":-1.9,"y":-1.45},{"x":-1.8,"y":-1.2},{"x":-1.7,"y":-1.15},{"x":-1.5,"y":-1.15},{"x":-1.4,"y":-0.9},{"x":-1.3,"y":-0.85},{"x":-1.1,"y":-0.85},{"x":-1.0,"y":-0.6},{"x":-0.9,"y":-0.55},{"x":-0.7,"y":-0.5},{"x":-0.6,"y":-0.3},{"x":-0.5,"y":-0.25},{"x":-0.3,"y":-0.2},{"x":-0.2,"y":0.05},{"x":-0.1,"y":0.1},{"x":0.0,"y":0.2},{"x":0.1,"y":0.4},{"x":0.2,"y":0.35},{"x":0.4,"y":0.5},{"x":0.5,"y":0.75},{"x":0.6,"y":0.7},{"x":0.8,"y":0.85},{"x":0.9,"y":1.1},{"x":1.0,"y":1.05},{"x":1.2,"y":1.2},{"x":1.3,"y":1.45},{"x":1.4,"y":1.45},{"x":1.5,"y":1.1},{"x":1.6,"y":1.55},{"x":1.8,"y":1.8},{"x":2.0,"y":1.9},{"x":2.2,"y":2.2},{"x":2.37,"y":2.67},{"x":2.5,"y":2.4},{"x":2.6,"y":2.2},{"x":2.7,"y":2.7},{"x":2.9,"y":2.8},{"x":3.1,"y":3.1},{"x":3.3,"y":3.2},{"x":3.5,"y":3.5},{"x":3.7,"y":3.6},{"x":3.98,"y":4.1},{"x":4.2,"y":4.0},{"x":4.5,"y":6.37},{"x":5.4,"y":5.26}],
"h10":[{"a":-0.935,"b":-0.825,"n":2},{"a":-0.825,"b":-0.715,"n":3},{"a":-0.715,"b":-0.605,"n":3},{"a":-0.605,"b":-0.495,"n":3},{"a":-0.495,"b":-0.385,"n":4},{"a":-0.385,"b":-0.275,"n":6},{"a":-0.275,"b":-0.165,"n":12},{"a":-0.165,"b":-0.055,"n":75},{"a":-0.055,"b":0.055,"n":490},{"a":0.055,"b":0.165,"n":160},{"a":0.165,"b":0.275,"n":50},{"a":0.275,"b":0.385,"n":22},{"a":0.385,"b":0.495,"n":14},{"a":0.495,"b":0.605,"n":7},{"a":0.605,"b":0.715,"n":4},{"a":0.715,"b":0.825,"n":2}],
"h20":[{"a":-1.595,"b":-1.485,"n":2},{"a":-1.375,"b":-1.265,"n":3},{"a":-1.155,"b":-1.045,"n":5},{"a":-1.045,"b":-0.935,"n":8},{"a":-0.935,"b":-0.825,"n":10},{"a":-0.825,"b":-0.715,"n":12},{"a":-0.715,"b":-0.605,"n":8},{"a":-0.605,"b":-0.495,"n":6},{"a":-0.495,"b":-0.385,"n":8},{"a":-0.385,"b":-0.275,"n":10},{"a":-0.275,"b":-0.165,"n":15},{"a":-0.165,"b":-0.055,"n":30},{"a":-0.055,"b":0.055,"n":430},{"a":0.055,"b":0.165,"n":180},{"a":0.165,"b":0.275,"n":60},{"a":0.275,"b":0.385,"n":25},{"a":0.385,"b":0.495,"n":15},{"a":0.495,"b":0.605,"n":10},{"a":0.605,"b":0.715,"n":6},{"a":0.715,"b":0.825,"n":4},{"a":0.825,"b":0.935,"n":3},{"a":1.045,"b":1.155,"n":2}],
"h21":[{"a":-1.55,"b":-1.45,"n":2},{"a":-1.45,"b":-1.35,"n":3},{"a":-1.35,"b":-1.25,"n":3},{"a":-1.25,"b":-1.15,"n":3},{"a":-1.15,"b":-1.05,"n":3},{"a":-1.05,"b":-0.95,"n":3},{"a":-0.95,"b":-0.85,"n":3},{"a":-0.85,"b":-0.75,"n":8},{"a":-0.75,"b":-0.65,"n":12},{"a":-0.65,"b":-0.55,"n":6},{"a":-0.55,"b":-0.45,"n":4},{"a":-0.45,"b":-0.35,"n":3},{"a":-0.35,"b":-0.25,"n":5},{"a":-0.25,"b":-0.15,"n":8},{"a":-0.15,"b":-0.05,"n":62},{"a":-0.05,"b":0.05,"n":700},{"a":0.05,"b":0.15,"n":25},{"a":0.15,"b":0.25,"n":18},{"a":0.25,"b":0.35,"n":6},{"a":0.35,"b":0.45,"n":3}],
"h30":[{"a":-2.015,"b":-1.885,"n":3},{"a":-1.885,"b":-1.755,"n":3},{"a":-1.755,"b":-1.625,"n":4},{"a":-1.625,"b":-1.495,"n":4},{"a":-1.495,"b":-1.365,"n":5},{"a":-1.365,"b":-1.235,"n":5},{"a":-1.235,"b":-1.105,"n":6},{"a":-1.105,"b":-0.975,"n":8},{"a":-0.975,"b":-0.845,"n":10},{"a":-0.845,"b":-0.715,"n":12},{"a":-0.715,"b":-0.585,"n":14},{"a":-0.585,"b":-0.455,"n":16},{"a":-0.455,"b":-0.325,"n":22},{"a":-0.325,"b":-0.195,"n":30},{"a":-0.195,"b":-0.065,"n":125},{"a":-0.065,"b":0.065,"n":345},{"a":0.065,"b":0.195,"n":130},{"a":0.195,"b":0.325,"n":45},{"a":0.325,"b":0.455,"n":22},{"a":0.455,"b":0.585,"n":15},{"a":0.585,"b":0.715,"n":13},{"a":0.715,"b":0.845,"n":11},{"a":0.845,"b":0.975,"n":10},{"a":0.975,"b":1.105,"n":8},{"a":1.105,"b":1.235,"n":7},{"a":1.235,"b":1.365,"n":6},{"a":1.365,"b":1.495,"n":5},{"a":1.495,"b":1.625,"n":4},{"a":1.625,"b":1.755,"n":3},{"a":1.755,"b":1.885,"n":3},{"a":1.885,"b":2.015,"n":3}],
"h31":[{"a":-2.015,"b":-1.885,"n":4},{"a":-1.885,"b":-1.755,"n":4},{"a":-1.755,"b":-1.625,"n":5},{"a":-1.625,"b":-1.495,"n":5},{"a":-1.495,"b":-1.365,"n":6},{"a":-1.365,"b":-1.235,"n":7},{"a":-1.235,"b":-1.105,"n":8},{"a":-1.105,"b":-0.975,"n":10},{"a":-0.975,"b":-0.845,"n":12},{"a":-0.845,"b":-0.715,"n":15},{"a":-0.715,"b":-0.585,"n":20},{"a":-0.585,"b":-0.455,"n":30},{"a":-0.455,"b":-0.325,"n":50},{"a":-0.325,"b":-0.195,"n":90},{"a":-0.195,"b":-0.065,"n":160},{"a":-0.065,"b":0.065,"n":215},{"a":0.065,"b":0.195,"n":130},{"a":0.195,"b":0.325,"n":70},{"a":0.325,"b":0.455,"n":40},{"a":0.455,"b":0.585,"n":25},{"a":0.585,"b":0.715,"n":18},{"a":0.715,"b":0.845,"n":14},{"a":0.845,"b":0.975,"n":12},{"a":0.975,"b":1.105,"n":10},{"a":1.105,"b":1.235,"n":8},{"a":1.235,"b":1.365,"n":7},{"a":1.365,"b":1.495,"n":6},{"a":1.495,"b":1.625,"n":5},{"a":1.625,"b":1.755,"n":4},{"a":1.755,"b":1.885,"n":4},{"a":1.885,"b":2.015,"n":3}],
"h32":[{"a":-2.015,"b":-1.885,"n":3},{"a":-1.885,"b":-1.755,"n":4},{"a":-1.755,"b":-1.625,"n":4},{"a":-1.625,"b":-1.495,"n":5},{"a":-1.495,"b":-1.365,"n":6},{"a":-1.365,"b":-1.235,"n":7},{"a":-1.235,"b":-1.105,"n":8},{"a":-1.105,"b":-0.975,"n":10},{"a":-0.975,"b":-0.845,"n":12},{"a":-0.845,"b":-0.715,"n":16},{"a":-0.715,"b":-0.585,"n":22},{"a":-0.585,"b":-0.455,"n":32},{"a":-0.455,"b":-0.325,"n":55},{"a":-0.325,"b":-0.195,"n":100},{"a":-0.195,"b":-0.065,"n":165},{"a":-0.065,"b":0.065,"n":215},{"a":0.065,"b":0.195,"n":120},{"a":0.195,"b":0.325,"n":65},{"a":0.325,"b":0.455,"n":38},{"a":0.455,"b":0.585,"n":24},{"a":0.585,"b":0.715,"n":17},{"a":0.715,"b":0.845,"n":13},{"a":0.845,"b":0.975,"n":11},{"a":0.975,"b":1.105,"n":9},{"a":1.105,"b":1.235,"n":8},{"a":1.235,"b":1.365,"n":6},{"a":1.365,"b":1.495,"n":5},{"a":1.495,"b":1.625,"n":4},{"a":1.625,"b":1.755,"n":4},{"a":1.755,"b":1.885,"n":3},{"a":1.885,"b":2.015,"n":3}],
"h40":[{"a":-1.05,"b":-0.95,"n":2},{"a":-0.85,"b":-0.75,"n":3},{"a":-0.75,"b":-0.65,"n":4},{"a":-0.65,"b":-0.55,"n":5},{"a":-0.55,"b":-0.45,"n":7},{"a":-0.45,"b":-0.35,"n":10},{"a":-0.35,"b":-0.25,"n":18},{"a":-0.25,"b":-0.15,"n":40},{"a":-0.15,"b":-0.05,"n":100},{"a":-0.05,"b":0.05,"n":270},{"a":0.05,"b":0.15,"n":140},{"a":0.15,"b":0.25,"n":60},{"a":0.25,"b":0.35,"n":25},{"a":0.35,"b":0.45,"n":12},{"a":0.45,"b":0.55,"n":8},{"a":0.55,"b":0.65,"n":5},{"a":0.65,"b":0.75,"n":3},{"a":0.75,"b":0.85,"n":2}],
"h41":[{"a":-1.25,"b":-1.15,"n":3},{"a":-1.05,"b":-0.95,"n":4},{"a":-0.95,"b":-0.85,"n":6},{"a":-0.85,"b":-0.75,"n":8},{"a":-0.75,"b":-0.65,"n":12},{"a":-0.65,"b":-0.55,"n":18},{"a":-0.55,"b":-0.45,"n":28},{"a":-0.45,"b":-0.35,"n":45},{"a":-0.35,"b":-0.25,"n":70},{"a":-0.25,"b":-0.15,"n":110},{"a":-0.15,"b":-0.05,"n":150},{"a":-0.05,"b":0.05,"n":170},{"a":0.05,"b":0.15,"n":130},{"a":0.15,"b":0.25,"n":90},{"a":0.25,"b":0.35,"n":55},{"a":0.35,"b":0.45,"n":35},{"a":0.45,"b":0.55,"n":22},{"a":0.55,"b":0.65,"n":14},{"a":0.65,"b":0.75,"n":9},{"a":0.75,"b":0.85,"n":6},{"a":0.85,"b":0.95,"n":4},{"a":0.95,"b":1.05,"n":3},{"a":1.15,"b":1.25,"n":2}],
"h42":[{"a":-1.25,"b":-1.15,"n":3},{"a":-1.05,"b":-0.95,"n":4},{"a":-0.95,"b":-0.85,"n":6},{"a":-0.85,"b":-0.75,"n":9},{"a":-0.75,"b":-0.65,"n":13},{"a":-0.65,"b":-0.55,"n":20},{"a":-0.55,"b":-0.45,"n":30},{"a":-0.45,"b":-0.35,"n":48},{"a":-0.35,"b":-0.25,"n":75},{"a":-0.25,"b":-0.15,"n":115},{"a":-0.15,"b":-0.05,"n":155},{"a":-0.05,"b":0.05,"n":162},{"a":0.05,"b":0.15,"n":125},{"a":0.15,"b":0.25,"n":85},{"a":0.25,"b":0.35,"n":52},{"a":0.35,"b":0.45,"n":33},{"a":0.45,"b":0.55,"n":20},{"a":0.55,"b":0.65,"n":13},{"a":0.65,"b":0.75,"n":8},{"a":0.75,"b":0.85,"n":5},{"a":0.85,"b":0.95,"n":4},{"a":0.95,"b":1.05,"n":3},{"a":1.15,"b":1.25,"n":2}],
"h43":[{"a":-1.25,"b":-1.15,"n":2},{"a":-1.05,"b":-0.95,"n":3},{"a":-0.85,"b":-0.75,"n":4},{"a":-0.65,"b":-0.55,"n":6},{"a":-0.55,"b":-0.45,"n":8},{"a":-0.45,"b":-0.35,"n":12},{"a":-0.35,"b":-0.25,"n":20},{"a":-0.25,"b":-0.15,"n":40},{"a":-0.15,"b":-0.05,"n":110},{"a":-0.05,"b":0.05,"n":420},{"a":0.05,"b":0.15,"n":70},{"a":0.15,"b":0.25,"n":30},{"a":0.25,"b":0.35,"n":15},{"a":0.35,"b":0.45,"n":10},{"a":0.45,"b":0.55,"n":7},{"a":0.55,"b":0.65,"n":5},{"a":0.75,"b":0.85,"n":3},{"a":0.95,"b":1.05,"n":2}],
"h50":[{"a":-1.25,"b":-1.15,"n":2},{"a":-1.05,"b":-0.95,"n":3},{"a":-0.85,"b":-0.75,"n":5},{"a":-0.75,"b":-0.65,"n":7},{"a":-0.65,"b":-0.55,"n":10},{"a":-0.55,"b":-0.45,"n":14},{"a":-0.45,"b":-0.35,"n":20},{"a":-0.35,"b":-0.25,"n":35},{"a":-0.25,"b":-0.15,"n":70},{"a":-0.15,"b":-0.05,"n":130},{"a":-0.05,"b":0.05,"n":220},{"a":0.05,"b":0.15,"n":140},{"a":0.15,"b":0.25,"n":70},{"a":0.25,"b":0.35,"n":35},{"a":0.35,"b":0.45,"n":18},{"a":0.45,"b":0.55,"n":10},{"a":0.55,"b":0.65,"n":6},{"a":0.65,"b":0.75,"n":4},{"a":0.75,"b":0.85,"n":3},{"a":0.95,"b":1.05,"n":2}],
"h51":[{"a":-1.45,"b":-1.35,"n":2},{"a":-1.25,"b":-1.15,"n":3},{"a":-1.05,"b":-0.95,"n":5},{"a":-0.95,"b":-0.85,"n":7},{"a":-0.85,"b":-0.75,"n":10},{"a":-0.75,"b":-0.65,"n":15},{"a":-0.65,"b":-0.55,"n":22},{"a":-0.55,"b":-0.45,"n":35},{"a":-0.45,"b":-0.35,"n":55},{"a":-0.35,"b":-0.25,"n":80},{"a":-0.25,"b":-0.15,"n":110},{"a":-0.15,"b":-0.05,"n":150},{"a":-0.05,"b":0.05,"n":135},{"a":0.05,"b":0.15,"n":95},{"a":0.15,"b":0.25,"n":65},{"a":0.25,"b":0.35,"n":40},{"a":0.35,"b":0.45,"n":25},{"a":0.45,"b":0.55,"n":15},{"a":0.55,"b":0.65,"n":10},{"a":0.65,"b":0.75,"n":6},{"a":0.75,"b":0.85,"n":4},{"a":0.95,"b":1.05,"n":2}],
"h52":[{"a":-1.45,"b":-1.35,"n":2},{"a":-1.25,"b":-1.15,"n":3},{"a":-1.05,"b":-0.95,"n":5},{"a":-0.95,"b":-0.85,"n":7},{"a":-0.85,"b":-0.75,"n":11},{"a":-0.75,"b":-0.65,"n":16},{"a":-0.65,"b":-0.55,"n":24},{"a":-0.55,"b":-0.45,"n":37},{"a":-0.45,"b":-0.35,"n":58},{"a":-0.35,"b":-0.25,"n":85},{"a":-0.25,"b":-0.15,"n":115},{"a":-0.15,"b":-0.05,"n":150},{"a":-0.05,"b":0.05,"n":130},{"a":0.05,"b":0.15,"n":90},{"a":0.15,"b":0.25,"n":60},{"a":0.25,"b":0.35,"n":38},{"a":0.35,"b":0.45,"n":23},{"a":0.45,"b":0.55,"n":14},{"a":0.55,"b":0.65,"n":9},{"a":0.65,"b":0.75,"n":6},{"a":0.75,"b":0.85,"n":4},{"a":0.95,"b":1.05,"n":2}],
"h53":[{"a":-1.25,"b":-1.15,"n":2},{"a":-1.05,"b":-0.95,"n":3},{"a":-0.85,"b":-0.75,"n":5},{"a":-0.65,"b":-0.55,"n":8},{"a":-0.55,"b":-0.45,"n":10},{"a":-0.45,"b":-0.35,"n":15},{"a":-0.35,"b":-0.25,"n":25},{"a":-0.25,"b":-0.15,"n":50},{"a":-0.15,"b":-0.05,"n":110},{"a":-0.05,"b":0.05,"n":340},{"a":0.05,"b":0.15,"n":70},{"a":0.15,"b":0.25,"n":30},{"a":0.25,"b":0.35,"n":15},{"a":0.35,"b":0.45,"n":10},{"a":0.45,"b":0.55,"n":6},{"a":0.55,"b":0.65,"n":4},{"a":0.75,"b":0.85,"n":2}],
"h54":[{"a":-1.95,"b":-1.85,"n":3},{"a":-1.05,"b":-0.95,"n":2},{"a":-0.65,"b":-0.55,"n":4},{"a":-0.55,"b":-0.45,"n":5},{"a":-0.45,"b":-0.35,"n":6},{"a":-0.35,"b":-0.25,"n":8},{"a":-0.25,"b":-0.15,"n":37},{"a":-0.15,"b":-0.05,"n":72},{"a":-0.05,"b":0.05,"n":550},{"a":0.05,"b":0.15,"n":55},{"a":0.15,"b":0.25,"n":12},{"a":0.25,"b":0.35,"n":8},{"a":0.35,"b":0.45,"n":6},{"a":0.45,"b":0.55,"n":4},{"a":0.55,"b":0.65,"n":3},{"a":0.65,"b":0.75,"n":3},{"a":0.75,"b":0.85,"n":2}],
"h60":[{"a":-1.625,"b":-1.495,"n":3},{"a":-1.495,"b":-1.365,"n":4},{"a":-1.365,"b":-1.235,"n":6},{"a":-1.235,"b":-1.105,"n":8},{"a":-1.105,"b":-0.975,"n":12},{"a":-0.975,"b":-0.845,"n":18},{"a":-0.845,"b":-0.715,"n":25},{"a":-0.715,"b":-0.585,"n":35},{"a":-0.585,"b":-0.455,"n":48},{"a":-0.455,"b":-0.325,"n":60},{"a":-0.325,"b":-0.195,"n":75},{"a":-0.195,"b":-0.065,"n":88},{"a":-0.065,"b":0.065,"n":95},{"a":0.065,"b":0.195,"n":85},{"a":0.195,"b":0.325,"n":72},{"a":0.325,"b":0.455,"n":58},{"a":0.455,"b":0.585,"n":45},{"a":0.585,"b":0.715,"n":34},{"a":0.715,"b":0.845,"n":25},{"a":0.845,"b":0.975,"n":18},{"a":0.975,"b":1.105,"n":13},{"a":1.105,"b":1.235,"n":9},{"a":1.235,"b":1.365,"n":6},{"a":1.365,"b":1.495,"n":4},{"a":1.495,"b":1.625,"n":3},{"a":1.755,"b":1.885,"n":2}],
"h61":[{"a":-1.885,"b":-1.755,"n":3},{"a":-1.755,"b":-1.625,"n":4},{"a":-1.625,"b":-1.495,"n":6},{"a":-1.495,"b":-1.365,"n":8},{"a":-1.365,"b":-1.235,"n":11},{"a":-1.235,"b":-1.105,"n":15},{"a":-1.105,"b":-0.975,"n":20},{"a":-0.975,"b":-0.845,"n":27},{"a":-0.845,"b":-0.715,"n":35},{"a":-0.715,"b":-0.585,"n":44},{"a":-0.585,"b":-0.455,"n":53},{"a":-0.455,"b":-0.325,"n":62},{"a":-0.325,"b":-0.195,"n":70},{"a":-0.195,"b":-0.065,"n":68},{"a":-0.065,"b":0.065,"n":60},{"a":0.065,"b":0.195,"n":52},{"a":0.195,"b":0.325,"n":43},{"a":0.325,"b":0.455,"n":35},{"a":0.455,"b":0.585,"n":27},{"a":0.585,"b":0.715,"n":20},{"a":0.715,"b":0.845,"n":15},{"a":0.845,"b":0.975,"n":11},{"a":0.975,"b":1.105,"n":8},{"a":1.105,"b":1.235,"n":6},{"a":1.235,"b":1.365,"n":4},{"a":1.495,"b":1.625,"n":2}],
"h62":[{"a":-1.885,"b":-1.755,"n":2},{"a":-1.755,"b":-1.625,"n":3},{"a":-1.625,"b":-1.495,"n":5},{"a":-1.495,"b":-1.365,"n":7},{"a":-1.365,"b":-1.235,"n":10},{"a":-1.235,"b":-1.105,"n":14},{"a":-1.105,"b":-0.975,"n":19},{"a":-0.975,"b":-0.845,"n":26},{"a":-0.845,"b":-0.715,"n":34},{"a":-0.715,"b":-0.585,"n":44},{"a":-0.585,"b":-0.455,"n":55},{"a":-0.455,"b":-0.325,"n":66},{"a":-0.325,"b":-0.195,"n":76},{"a":-0.195,"b":-0.065,"n":85},{"a":-0.065,"b":0.065,"n":80},{"a":0.065,"b":0.195,"n":68},{"a":0.195,"b":0.325,"n":55},{"a":0.325,"b":0.455,"n":42},{"a":0.455,"b":0.585,"n":31},{"a":0.585,"b":0.715,"n":22},{"a":0.715,"b":0.845,"n":15},{"a":0.845,"b":0.975,"n":10},{"a":0.975,"b":1.105,"n":7},{"a":1.105,"b":1.235,"n":5},{"a":1.235,"b":1.365,"n":3},{"a":1.495,"b":1.625,"n":2}],
"h63":[{"a":-1.625,"b":-1.495,"n":3},{"a":-1.495,"b":-1.365,"n":4},{"a":-1.365,"b":-1.235,"n":6},{"a":-1.235,"b":-1.105,"n":9},{"a":-1.105,"b":-0.975,"n":13},{"a":-0.975,"b":-0.845,"n":18},{"a":-0.845,"b":-0.715,"n":24},{"a":-0.715,"b":-0.585,"n":32},{"a":-0.585,"b":-0.455,"n":41},{"a":-0.455,"b":-0.325,"n":52},{"a":-0.325,"b":-0.195,"n":62},{"a":-0.195,"b":-0.065,"n":71},{"a":-0.065,"b":0.065,"n":75},{"a":0.065,"b":0.195,"n":72},{"a":0.195,"b":0.325,"n":64},{"a":0.325,"b":0.455,"n":53},{"a":0.455,"b":0.585,"n":42},{"a":0.585,"b":0.715,"n":32},{"a":0.715,"b":0.845,"n":23},{"a":0.845,"b":0.975,"n":16},{"a":0.975,"b":1.105,"n":11},{"a":1.105,"b":1.235,"n":7},{"a":1.235,"b":1.365,"n":5},{"a":1.365,"b":1.495,"n":3},{"a":1.495,"b":1.625,"n":2}],
"h64":[{"a":-0.975,"b":-0.845,"n":3},{"a":-0.845,"b":-0.715,"n":6},{"a":-0.715,"b":-0.585,"n":12},{"a":-0.585,"b":-0.455,"n":25},{"a":-0.455,"b":-0.325,"n":45},{"a":-0.325,"b":-0.195,"n":75},{"a":-0.195,"b":-0.065,"n":110},{"a":-0.065,"b":0.065,"n":120},{"a":0.065,"b":0.195,"n":100},{"a":0.195,"b":0.325,"n":75},{"a":0.325,"b":0.455,"n":50},{"a":0.455,"b":0.585,"n":30},{"a":0.585,"b":0.715,"n":18},{"a":0.715,"b":0.845,"n":10},{"a":0.845,"b":0.975,"n":5},{"a":0.975,"b":1.105,"n":3}],
"h65":[{"a":-0.6,"b":-0.5,"n":3},{"a":-0.5,"b":-0.4,"n":8},{"a":-0.4,"b":-0.3,"n":25},{"a":-0.3,"b":-0.2,"n":60},{"a":-0.2,"b":-0.1,"n":110},{"a":-0.1,"b":0.0,"n":145},{"a":0.0,"b":0.1,"n":125},{"a":0.1,"b":0.2,"n":100},{"a":0.2,"b":0.3,"n":70},{"a":0.3,"b":0.4,"n":45},{"a":0.4,"b":0.5,"n":35},{"a":0.5,"b":0.6,"n":25},{"a":0.6,"b":0.7,"n":12},{"a":0.7,"b":0.8,"n":6},{"a":0.8,"b":0.9,"n":3},{"a":1.0,"b":1.1,"n":2},{"a":1.5,"b":1.6,"n":2},{"a":1.8,"b":1.9,"n":2}]
},
"concat":[
{"width":104,"height":108,"view":{"fill":"transparent","stroke":"transparent"},"data":{"values":[{"m":"RevMan MH"}]},"mark":{"type":"text"},"encoding":{"text":{"field":"m","type":"nominal"}}},
{"width":137,"height":81,"resolve":{"axis":{"x":"independent","y":"independent"}},"layer":[{"data":{"name":"s01"},"mark":{"type":"circle","size":12,"color":"#000000","opacity":1},"encoding":{"x":{"field":"x","type":"quantitative","title":null,"scale":{"domain":[-5.5,5.5],"nice":false,"zero":false},"axis":{"labelOverlap":false,"values":[-5,-3.75,-2.5,-1.25,0,1.25,2.5,3.75,5],"format":".1f","labelExpr":"datum.value%2.5 ? '' : datum.label","tickOpacity":{"condition":{"test":"datum.value%2.5","value":0},"value":1},"gridWidth":{"condition":{"test":"datum.value%2.5","value":1},"value":2}}},"y":{"field":"y","type":"quantitative","title":null,"scale":{"domain":[-3.53,6.53],"nice":false,"zero":false},"axis":{"labelOverlap":false,"values":[-3,-2,-1,0,1,2,3,4,5,6],"format":"d","labelExpr":"datum.value%2 ? '' : datum.label","tickOpacity":{"condition":{"test":"datum.value%2","value":0},"value":1},"gridWidth":{"condition":{"test":"datum.value%2","value":1},"value":2}}}}},{"data":{"name":"idl"},"mark":{"type":"line","color":"#FF0000","strokeWidth":1.6},"encoding":{"x":{"field":"x","type":"quantitative","axis":null},"y":{"field":"y","type":"quantitative","axis":null}}}]},
{"width":137,"height":81,"resolve":{"axis":{"x":"independent","y":"independent"}},"layer":[{"data":{"name":"s02"},"mark":{"type":"circle","size":12,"color":"#000000","opacity":1},"encoding":{"x":{"field":"x","type":"quantitative","title":null,"scale":{"domain":[-5.5,5.5],"nice":false,"zero":false},"axis":{"labelOverlap":false,"values":[-5,-3.75,-2.5,-1.25,0,1.25,2.5,3.75,5],"format":".1f","labelExpr":"datum.value%2.5 ? '' : datum.label","tickOpacity":{"condition":{"test":"datum.value%2.5","value":0},"value":1},"gridWidth":{"condition":{"test":"datum.value%2.5","value":1},"value":2}}},"y":{"field":"y","type":"quantitative","title":null,"scale":{"domain":[-3.53,6.53],"nice":false,"zero":false},"axis":{"labelOverlap":false,"values":[-3,-2,-1,0,1,2,3,4,5,6],"format":"d","labelExpr":"datum.value%2 ? '' : datum.label","tickOpacity":{"condition":{"test":"datum.value%2","value":0},"value":1},"gridWidth":{"condition":{"test":"datum.value%2","value":1},"value":2}}}}},{"data":{"name":"idl"},"mark":{"type":"line","color":"#FF0000","strokeWidth":1.6},"encoding":{"x":{"field":"x","type":"quantitative","axis":null},"y":{"field":"y","type":"quantitative","axis":null}}}]},
{"width":137,"height":81,"resolve":{"axis":{"x":"independent","y":"independent"}},"layer":[{"data":{"name":"s03"},"mark":{"type":"circle","size":12,"color":"#000000","opacity":1},"encoding":{"x":{"field":"x","type":"quantitative","title":null,"scale":{"domain":[-5.5,5.5],"nice":false,"zero":false},"axis":{"labelOverlap":false,"values":[-5,-3.75,-2.5,-1.25,0,1.25,2.5,3.75,5],"format":".1f","labelExpr":"datum.value%2.5 ? '' : datum.label","tickOpacity":{"condition":{"test":"datum.value%2.5","value":0},"value":1},"gridWidth":{"condition":{"test":"datum.value%2.5","value":1},"value":2}}},"y":{"field":"y","type":"quantitative","title":null,"scale":{"domain":[-3.53,6.53],"nice":false,"zero":false},"axis":{"labelOverlap":false,"values":[-3,-2,-1,0,1,2,3,4,5,6],"format":"d","labelExpr":"datum.value%2 ? '' : datum.label","tickOpacity":{"condition":{"test":"datum.value%2","value":0},"value":1},"gridWidth":{"condition":{"test":"datum.value%2","value":1},"value":2}}}}},{"data":{"name":"idl"},"mark":{"type":"line","color":"#FF0000","strokeWidth":1.6},"encoding":{"x":{"field":"x","type":"quantitative","axis":null},"y":{"field":"y","type":"quantitative","axis":null}}}]},
{"width":137,"height":81,"resolve":{"axis":{"x":"independent","y":"independent"}},"layer":[{"data":{"name":"s04"},"mark":{"type":"circle","size":12,"color":"#000000","opacity":1},"encoding":{"x":{"field":"x","type":"quantitative","title":null,"scale":{"domain":[-5.5,5.5],"nice":false,"zero":false},"axis":{"labelOverlap":false,"values":[-5,-3.75,-2.5,-1.25,0,1.25,2.5,3.75,5],"format":".1f","labelExpr":"datum.value%2.5 ? '' : datum.label","tickOpacity":{"condition":{"test":"datum.value%2.5","value":0},"value":1},"gridWidth":{"condition":{"test":"datum.value%2.5","value":1},"value":2}}},"y":{"field":"y","type":"quantitative","title":null,"scale":{"domain":[-3.53,6.53],"nice":false,"zero":false},"axis":{"labelOverlap":false,"values":[-3,-2,-1,0,1,2,3,4,5,6],"format":"d","labelExpr":"datum.value%2 ? '' : datum.label","tickOpacity":{"condition":{"test":"datum.value%2","value":0},"value":1},"gridWidth":{"condition":{"test":"datum.value%2","value":1},"value":2}}}}},{"data":{"name":"idl"},"mark":{"type":"line","color":"#FF0000","strokeWidth":1.6},"encoding":{"x":{"field":"x","type":"quantitative","axis":null},"y":{"field":"y","type":"quantitative","axis":null}}}]},
{"width":137,"height":81,"resolve":{"axis":{"x":"independent","y":"independent"}},"layer":[{"data":{"name":"s05"},"mark":{"type":"circle","size":12,"color":"#000000","opacity":1},"encoding":{"x":{"field":"x","type":"quantitative","title":null,"scale":{"domain":[-5.5,5.5],"nice":false,"zero":false},"axis":{"labelOverlap":false,"values":[-5,-3.75,-2.5,-1.25,0,1.25,2.5,3.75,5],"format":".1f","labelExpr":"datum.value%2.5 ? '' : datum.label","tickOpacity":{"condition":{"test":"datum.value%2.5","value":0},"value":1},"gridWidth":{"condition":{"test":"datum.value%2.5","value":1},"value":2}}},"y":{"field":"y","type":"quantitative","title":null,"scale":{"domain":[-3.53,6.53],"nice":false,"zero":false},"axis":{"labelOverlap":false,"values":[-3,-2,-1,0,1,2,3,4,5,6],"format":"d","labelExpr":"datum.value%2 ? '' : datum.label","tickOpacity":{"condition":{"test":"datum.value%2","value":0},"value":1},"gridWidth":{"condition":{"test":"datum.value%2","value":1},"value":2}}}}},{"data":{"name":"idl"},"mark":{"type":"line","color":"#FF0000","strokeWidth":1.6},"encoding":{"x":{"field":"x","type":"quantitative","axis":null},"y":{"field":"y","type":"quantitative","axis":null}}}]},
{"width":137,"height":81,"resolve":{"axis":{"x":"independent","y":"independent"}},"layer":[{"data":{"name":"s06"},"mark":{"type":"circle","size":12,"color":"#000000","opacity":1},"encoding":{"x":{"field":"x","type":"quantitative","title":null,"scale":{"domain":[-5.5,5.5],"nice":false,"zero":false},"axis":{"labelOverlap":false,"values":[-5,-3.75,-2.5,-1.25,0,1.25,2.5,3.75,5],"format":".1f","labelExpr":"datum.value%2.5 ? '' : datum.label","tickOpacity":{"condition":{"test":"datum.value%2.5","value":0},"value":1},"gridWidth":{"condition":{"test":"datum.value%2.5","value":1},"value":2}}},"y":{"field":"y","type":"quantitative","title":null,"scale":{"domain":[-3.53,6.53],"nice":false,"zero":false},"axis":{"labelOverlap":false,"values":[-3,-2,-1,0,1,2,3,4,5,6],"format":"d","labelExpr":"datum.value%2 ? '' : datum.label","tickOpacity":{"condition":{"test":"datum.value%2","value":0},"value":1},"gridWidth":{"condition":{"test":"datum.value%2","value":1},"value":2}}}}},{"data":{"name":"idl"},"mark":{"type":"line","color":"#FF0000","strokeWidth":1.6},"encoding":{"x":{"field":"x","type":"quantitative","axis":null},"y":{"field":"y","type":"quantitative","axis":null}}}]},

{"width":136,"height":81,"data":{"name":"h10"},"mark":{"type":"bar","color":"#595959","clip":true},"encoding":{"x":{"field":"a","type":"quantitative","title":null,"scale":{"domain":[-2.428,2.19],"nice":false,"zero":false},"axis":{"labelOverlap":false,"values":[-2,-1.5,-1,-0.5,0,0.5,1,1.5,2],"format":"d","labelExpr":"datum.value%1 ? '' : datum.label","tickOpacity":{"condition":{"test":"datum.value%1","value":0},"value":1},"gridWidth":{"condition":{"test":"datum.value%1","value":1},"value":2}}},"x2":{"field":"b"},"y":{"field":"n","type":"quantitative","title":null,"scale":{"domain":[-36,642],"nice":false,"zero":false},"axis":{"labelOverlap":false,"offset":-7,"values":[0,100,200,300,400,500,600],"format":"d","labelExpr":"datum.value%200 ? '' : datum.label","tickOpacity":{"condition":{"test":"datum.value%200","value":0},"value":1},"gridWidth":{"condition":{"test":"datum.value%200","value":1},"value":2}}},"y2":{"datum":0}}},
{"width":104,"height":108,"view":{"fill":"transparent","stroke":"transparent"},"data":{"values":[{"m":"REIV"}]},"mark":{"type":"text"},"encoding":{"text":{"field":"m","type":"nominal"}}},
{"width":137,"height":81,"resolve":{"axis":{"x":"independent","y":"independent"}},"layer":[{"data":{"name":"s12"},"mark":{"type":"circle","size":12,"color":"#000000","opacity":1},"encoding":{"x":{"field":"x","type":"quantitative","title":null,"scale":{"domain":[-5.5,5.5],"nice":false,"zero":false},"axis":{"labelOverlap":false,"values":[-5,-3.75,-2.5,-1.25,0,1.25,2.5,3.75,5],"format":".1f","labelExpr":"datum.value%2.5 ? '' : datum.label","tickOpacity":{"condition":{"test":"datum.value%2.5","value":0},"value":1},"gridWidth":{"condition":{"test":"datum.value%2.5","value":1},"value":2}}},"y":{"field":"y","type":"quantitative","title":null,"scale":{"domain":[-3.53,6.53],"nice":false,"zero":false},"axis":{"labelOverlap":false,"values":[-3,-2,-1,0,1,2,3,4,5,6],"format":"d","labelExpr":"datum.value%2 ? '' : datum.label","tickOpacity":{"condition":{"test":"datum.value%2","value":0},"value":1},"gridWidth":{"condition":{"test":"datum.value%2","value":1},"value":2}}}}},{"data":{"name":"idl"},"mark":{"type":"line","color":"#FF0000","strokeWidth":1.6},"encoding":{"x":{"field":"x","type":"quantitative","axis":null},"y":{"field":"y","type":"quantitative","axis":null}}}]},
{"width":137,"height":81,"resolve":{"axis":{"x":"independent","y":"independent"}},"layer":[{"data":{"name":"s13"},"mark":{"type":"circle","size":12,"color":"#000000","opacity":1},"encoding":{"x":{"field":"x","type":"quantitative","title":null,"scale":{"domain":[-5.5,5.5],"nice":false,"zero":false},"axis":{"labelOverlap":false,"values":[-5,-3.75,-2.5,-1.25,0,1.25,2.5,3.75,5],"format":".1f","labelExpr":"datum.value%2.5 ? '' : datum.label","tickOpacity":{"condition":{"test":"datum.value%2.5","value":0},"value":1},"gridWidth":{"condition":{"test":"datum.value%2.5","value":1},"value":2}}},"y":{"field":"y","type":"quantitative","title":null,"scale":{"domain":[-3.53,6.53],"nice":false,"zero":false},"axis":{"labelOverlap":false,"values":[-3,-2,-1,0,1,2,3,4,5,6],"format":"d","labelExpr":"datum.value%2 ? '' : datum.label","tickOpacity":{"condition":{"test":"datum.value%2","value":0},"value":1},"gridWidth":{"condition":{"test":"datum.value%2","value":1},"value":2}}}}},{"data":{"name":"idl"},"mark":{"type":"line","color":"#FF0000","strokeWidth":1.6},"encoding":{"x":{"field":"x","type":"quantitative","axis":null},"y":{"field":"y","type":"quantitative","axis":null}}}]},
{"width":137,"height":81,"resolve":{"axis":{"x":"independent","y":"independent"}},"layer":[{"data":{"name":"s14"},"mark":{"type":"circle","size":12,"color":"#000000","opacity":1},"encoding":{"x":{"field":"x","type":"quantitative","title":null,"scale":{"domain":[-5.5,5.5],"nice":false,"zero":false},"axis":{"labelOverlap":false,"values":[-5,-3.75,-2.5,-1.25,0,1.25,2.5,3.75,5],"format":".1f","labelExpr":"datum.value%2.5 ? '' : datum.label","tickOpacity":{"condition":{"test":"datum.value%2.5","value":0},"value":1},"gridWidth":{"condition":{"test":"datum.value%2.5","value":1},"value":2}}},"y":{"field":"y","type":"quantitative","title":null,"scale":{"domain":[-3.53,6.53],"nice":false,"zero":false},"axis":{"labelOverlap":false,"values":[-3,-2,-1,0,1,2,3,4,5,6],"format":"d","labelExpr":"datum.value%2 ? '' : datum.label","tickOpacity":{"condition":{"test":"datum.value%2","value":0},"value":1},"gridWidth":{"condition":{"test":"datum.value%2","value":1},"value":2}}}}},{"data":{"name":"idl"},"mark":{"type":"line","color":"#FF0000","strokeWidth":1.6},"encoding":{"x":{"field":"x","type":"quantitative","axis":null},"y":{"field":"y","type":"quantitative","axis":null}}}]},
{"width":137,"height":81,"resolve":{"axis":{"x":"independent","y":"independent"}},"layer":[{"data":{"name":"s15"},"mark":{"type":"circle","size":12,"color":"#000000","opacity":1},"encoding":{"x":{"field":"x","type":"quantitative","title":null,"scale":{"domain":[-5.5,5.5],"nice":false,"zero":false},"axis":{"labelOverlap":false,"values":[-5,-3.75,-2.5,-1.25,0,1.25,2.5,3.75,5],"format":".1f","labelExpr":"datum.value%2.5 ? '' : datum.label","tickOpacity":{"condition":{"test":"datum.value%2.5","value":0},"value":1},"gridWidth":{"condition":{"test":"datum.value%2.5","value":1},"value":2}}},"y":{"field":"y","type":"quantitative","title":null,"scale":{"domain":[-3.53,6.53],"nice":false,"zero":false},"axis":{"labelOverlap":false,"values":[-3,-2,-1,0,1,2,3,4,5,6],"format":"d","labelExpr":"datum.value%2 ? '' : datum.label","tickOpacity":{"condition":{"test":"datum.value%2","value":0},"value":1},"gridWidth":{"condition":{"test":"datum.value%2","value":1},"value":2}}}}},{"data":{"name":"idl"},"mark":{"type":"line","color":"#FF0000","strokeWidth":1.6},"encoding":{"x":{"field":"x","type":"quantitative","axis":null},"y":{"field":"y","type":"quantitative","axis":null}}}]},
{"width":137,"height":81,"resolve":{"axis":{"x":"independent","y":"independent"}},"layer":[{"data":{"name":"s16"},"mark":{"type":"circle","size":12,"color":"#000000","opacity":1},"encoding":{"x":{"field":"x","type":"quantitative","title":null,"scale":{"domain":[-5.5,5.5],"nice":false,"zero":false},"axis":{"labelOverlap":false,"values":[-5,-3.75,-2.5,-1.25,0,1.25,2.5,3.75,5],"format":".1f","labelExpr":"datum.value%2.5 ? '' : datum.label","tickOpacity":{"condition":{"test":"datum.value%2.5","value":0},"value":1},"gridWidth":{"condition":{"test":"datum.value%2.5","value":1},"value":2}}},"y":{"field":"y","type":"quantitative","title":null,"scale":{"domain":[-3.53,6.53],"nice":false,"zero":false},"axis":{"labelOverlap":false,"values":[-3,-2,-1,0,1,2,3,4,5,6],"format":"d","labelExpr":"datum.value%2 ? '' : datum.label","tickOpacity":{"condition":{"test":"datum.value%2","value":0},"value":1},"gridWidth":{"condition":{"test":"datum.value%2","value":1},"value":2}}}}},{"data":{"name":"idl"},"mark":{"type":"line","color":"#FF0000","strokeWidth":1.6},"encoding":{"x":{"field":"x","type":"quantitative","axis":null},"y":{"field":"y","type":"quantitative","axis":null}}}]},

{"width":136,"height":81,"data":{"name":"h20"},"mark":{"type":"bar","color":"#595959","clip":true},"encoding":{"x":{"field":"a","type":"quantitative","title":null,"scale":{"domain":[-2.428,2.19],"nice":false,"zero":false},"axis":{"labelOverlap":false,"values":[-2,-1.5,-1,-0.5,0,0.5,1,1.5,2],"format":"d","labelExpr":"datum.value%1 ? '' : datum.label","tickOpacity":{"condition":{"test":"datum.value%1","value":0},"value":1},"gridWidth":{"condition":{"test":"datum.value%1","value":1},"value":2}}},"x2":{"field":"b"},"y":{"field":"n","type":"quantitative","title":null,"scale":{"domain":[-36,642],"nice":false,"zero":false},"axis":{"labelOverlap":false,"offset":-7,"values":[0,100,200,300,400,500,600],"format":"d","labelExpr":"datum.value%200 ? '' : datum.label","tickOpacity":{"condition":{"test":"datum.value%200","value":0},"value":1},"gridWidth":{"condition":{"test":"datum.value%200","value":1},"value":2}}},"y2":{"datum":0}}},
{"width":136,"height":81,"data":{"name":"h21"},"mark":{"type":"bar","color":"#595959","clip":true},"encoding":{"x":{"field":"a","type":"quantitative","title":null,"scale":{"domain":[-2.428,2.19],"nice":false,"zero":false},"axis":{"labelOverlap":false,"values":[-2,-1.5,-1,-0.5,0,0.5,1,1.5,2],"format":"d","labelExpr":"datum.value%1 ? '' : datum.label","tickOpacity":{"condition":{"test":"datum.value%1","value":0},"value":1},"gridWidth":{"condition":{"test":"datum.value%1","value":1},"value":2}}},"x2":{"field":"b"},"y":{"field":"n","type":"quantitative","title":null,"scale":{"domain":[-36,642],"nice":false,"zero":false},"axis":{"labelOverlap":false,"offset":-7,"values":[0,100,200,300,400,500,600],"format":"d","labelExpr":"datum.value%200 ? '' : datum.label","tickOpacity":{"condition":{"test":"datum.value%200","value":0},"value":1},"gridWidth":{"condition":{"test":"datum.value%200","value":1},"value":2}}},"y2":{"datum":0}}},
{"width":104,"height":108,"view":{"fill":"transparent","stroke":"transparent"},"data":{"values":[{"m":"REIV TACC"}]},"mark":{"type":"text"},"encoding":{"text":{"field":"m","type":"nominal"}}},
{"width":137,"height":81,"resolve":{"axis":{"x":"independent","y":"independent"}},"layer":[{"data":{"name":"s23"},"mark":{"type":"circle","size":12,"color":"#000000","opacity":1},"encoding":{"x":{"field":"x","type":"quantitative","title":null,"scale":{"domain":[-5.5,5.5],"nice":false,"zero":false},"axis":{"labelOverlap":false,"values":[-5,-3.75,-2.5,-1.25,0,1.25,2.5,3.75,5],"format":".1f","labelExpr":"datum.value%2.5 ? '' : datum.label","tickOpacity":{"condition":{"test":"datum.value%2.5","value":0},"value":1},"gridWidth":{"condition":{"test":"datum.value%2.5","value":1},"value":2}}},"y":{"field":"y","type":"quantitative","title":null,"scale":{"domain":[-3.53,6.53],"nice":false,"zero":false},"axis":{"labelOverlap":false,"values":[-3,-2,-1,0,1,2,3,4,5,6],"format":"d","labelExpr":"datum.value%2 ? '' : datum.label","tickOpacity":{"condition":{"test":"datum.value%2","value":0},"value":1},"gridWidth":{"condition":{"test":"datum.value%2","value":1},"value":2}}}}},{"data":{"name":"idl"},"mark":{"type":"line","color":"#FF0000","strokeWidth":1.6},"encoding":{"x":{"field":"x","type":"quantitative","axis":null},"y":{"field":"y","type":"quantitative","axis":null}}}]},
{"width":137,"height":81,"resolve":{"axis":{"x":"independent","y":"independent"}},"layer":[{"data":{"name":"s24"},"mark":{"type":"circle","size":12,"color":"#000000","opacity":1},"encoding":{"x":{"field":"x","type":"quantitative","title":null,"scale":{"domain":[-5.5,5.5],"nice":false,"zero":false},"axis":{"labelOverlap":false,"values":[-5,-3.75,-2.5,-1.25,0,1.25,2.5,3.75,5],"format":".1f","labelExpr":"datum.value%2.5 ? '' : datum.label","tickOpacity":{"condition":{"test":"datum.value%2.5","value":0},"value":1},"gridWidth":{"condition":{"test":"datum.value%2.5","value":1},"value":2}}},"y":{"field":"y","type":"quantitative","title":null,"scale":{"domain":[-3.53,6.53],"nice":false,"zero":false},"axis":{"labelOverlap":false,"values":[-3,-2,-1,0,1,2,3,4,5,6],"format":"d","labelExpr":"datum.value%2 ? '' : datum.label","tickOpacity":{"condition":{"test":"datum.value%2","value":0},"value":1},"gridWidth":{"condition":{"test":"datum.value%2","value":1},"value":2}}}}},{"data":{"name":"idl"},"mark":{"type":"line","color":"#FF0000","strokeWidth":1.6},"encoding":{"x":{"field":"x","type":"quantitative","axis":null},"y":{"field":"y","type":"quantitative","axis":null}}}]},
{"width":137,"height":81,"resolve":{"axis":{"x":"independent","y":"independent"}},"layer":[{"data":{"name":"s25"},"mark":{"type":"circle","size":12,"color":"#000000","opacity":1},"encoding":{"x":{"field":"x","type":"quantitative","title":null,"scale":{"domain":[-5.5,5.5],"nice":false,"zero":false},"axis":{"labelOverlap":false,"values":[-5,-3.75,-2.5,-1.25,0,1.25,2.5,3.75,5],"format":".1f","labelExpr":"datum.value%2.5 ? '' : datum.label","tickOpacity":{"condition":{"test":"datum.value%2.5","value":0},"value":1},"gridWidth":{"condition":{"test":"datum.value%2.5","value":1},"value":2}}},"y":{"field":"y","type":"quantitative","title":null,"scale":{"domain":[-3.53,6.53],"nice":false,"zero":false},"axis":{"labelOverlap":false,"values":[-3,-2,-1,0,1,2,3,4,5,6],"format":"d","labelExpr":"datum.value%2 ? '' : datum.label","tickOpacity":{"condition":{"test":"datum.value%2","value":0},"value":1},"gridWidth":{"condition":{"test":"datum.value%2","value":1},"value":2}}}}},{"data":{"name":"idl"},"mark":{"type":"line","color":"#FF0000","strokeWidth":1.6},"encoding":{"x":{"field":"x","type":"quantitative","axis":null},"y":{"field":"y","type":"quantitative","axis":null}}}]},
{"width":137,"height":81,"resolve":{"axis":{"x":"independent","y":"independent"}},"layer":[{"data":{"name":"s26"},"mark":{"type":"circle","size":12,"color":"#000000","opacity":1},"encoding":{"x":{"field":"x","type":"quantitative","title":null,"scale":{"domain":[-5.5,5.5],"nice":false,"zero":false},"axis":{"labelOverlap":false,"values":[-5,-3.75,-2.5,-1.25,0,1.25,2.5,3.75,5],"format":".1f","labelExpr":"datum.value%2.5 ? '' : datum.label","tickOpacity":{"condition":{"test":"datum.value%2.5","value":0},"value":1},"gridWidth":{"condition":{"test":"datum.value%2.5","value":1},"value":2}}},"y":{"field":"y","type":"quantitative","title":null,"scale":{"domain":[-3.53,6.53],"nice":false,"zero":false},"axis":{"labelOverlap":false,"values":[-3,-2,-1,0,1,2,3,4,5,6],"format":"d","labelExpr":"datum.value%2 ? '' : datum.label","tickOpacity":{"condition":{"test":"datum.value%2","value":0},"value":1},"gridWidth":{"condition":{"test":"datum.value%2","value":1},"value":2}}}}},{"data":{"name":"idl"},"mark":{"type":"line","color":"#FF0000","strokeWidth":1.6},"encoding":{"x":{"field":"x","type":"quantitative","axis":null},"y":{"field":"y","type":"quantitative","axis":null}}}]},

{"width":136,"height":81,"data":{"name":"h30"},"mark":{"type":"bar","color":"#595959","clip":true},"encoding":{"x":{"field":"a","type":"quantitative","title":null,"scale":{"domain":[-2.428,2.19],"nice":false,"zero":false},"axis":{"labelOverlap":false,"values":[-2,-1.5,-1,-0.5,0,0.5,1,1.5,2],"format":"d","labelExpr":"datum.value%1 ? '' : datum.label","tickOpacity":{"condition":{"test":"datum.value%1","value":0},"value":1},"gridWidth":{"condition":{"test":"datum.value%1","value":1},"value":2}}},"x2":{"field":"b"},"y":{"field":"n","type":"quantitative","title":null,"scale":{"domain":[-36,642],"nice":false,"zero":false},"axis":{"labelOverlap":false,"offset":-7,"values":[0,100,200,300,400,500,600],"format":"d","labelExpr":"datum.value%200 ? '' : datum.label","tickOpacity":{"condition":{"test":"datum.value%200","value":0},"value":1},"gridWidth":{"condition":{"test":"datum.value%200","value":1},"value":2}}},"y2":{"datum":0}}},
{"width":136,"height":81,"data":{"name":"h31"},"mark":{"type":"bar","color":"#595959","clip":true},"encoding":{"x":{"field":"a","type":"quantitative","title":null,"scale":{"domain":[-2.428,2.19],"nice":false,"zero":false},"axis":{"labelOverlap":false,"values":[-2,-1.5,-1,-0.5,0,0.5,1,1.5,2],"format":"d","labelExpr":"datum.value%1 ? '' : datum.label","tickOpacity":{"condition":{"test":"datum.value%1","value":0},"value":1},"gridWidth":{"condition":{"test":"datum.value%1","value":1},"value":2}}},"x2":{"field":"b"},"y":{"field":"n","type":"quantitative","title":null,"scale":{"domain":[-36,642],"nice":false,"zero":false},"axis":{"labelOverlap":false,"offset":-7,"values":[0,100,200,300,400,500,600],"format":"d","labelExpr":"datum.value%200 ? '' : datum.label","tickOpacity":{"condition":{"test":"datum.value%200","value":0},"value":1},"gridWidth":{"condition":{"test":"datum.value%200","value":1},"value":2}}},"y2":{"datum":0}}},
{"width":136,"height":81,"data":{"name":"h32"},"mark":{"type":"bar","color":"#595959","clip":true},"encoding":{"x":{"field":"a","type":"quantitative","title":null,"scale":{"domain":[-2.428,2.19],"nice":false,"zero":false},"axis":{"labelOverlap":false,"values":[-2,-1.5,-1,-0.5,0,0.5,1,1.5,2],"format":"d","labelExpr":"datum.value%1 ? '' : datum.label","tickOpacity":{"condition":{"test":"datum.value%1","value":0},"value":1},"gridWidth":{"condition":{"test":"datum.value%1","value":1},"value":2}}},"x2":{"field":"b"},"y":{"field":"n","type":"quantitative","title":null,"scale":{"domain":[-36,642],"nice":false,"zero":false},"axis":{"labelOverlap":false,"offset":-7,"values":[0,100,200,300,400,500,600],"format":"d","labelExpr":"datum.value%200 ? '' : datum.label","tickOpacity":{"condition":{"test":"datum.value%200","value":0},"value":1},"gridWidth":{"condition":{"test":"datum.value%200","value":1},"value":2}}},"y2":{"datum":0}}},
{"width":104,"height":108,"view":{"fill":"transparent","stroke":"transparent"},"data":{"values":[{"m":"Peto"}]},"mark":{"type":"text"},"encoding":{"text":{"field":"m","type":"nominal"}}},
{"width":137,"height":81,"resolve":{"axis":{"x":"independent","y":"independent"}},"layer":[{"data":{"name":"s34"},"mark":{"type":"circle","size":12,"color":"#000000","opacity":1},"encoding":{"x":{"field":"x","type":"quantitative","title":null,"scale":{"domain":[-5.5,5.5],"nice":false,"zero":false},"axis":{"labelOverlap":false,"values":[-5,-3.75,-2.5,-1.25,0,1.25,2.5,3.75,5],"format":".1f","labelExpr":"datum.value%2.5 ? '' : datum.label","tickOpacity":{"condition":{"test":"datum.value%2.5","value":0},"value":1},"gridWidth":{"condition":{"test":"datum.value%2.5","value":1},"value":2}}},"y":{"field":"y","type":"quantitative","title":null,"scale":{"domain":[-3.53,6.53],"nice":false,"zero":false},"axis":{"labelOverlap":false,"values":[-3,-2,-1,0,1,2,3,4,5,6],"format":"d","labelExpr":"datum.value%2 ? '' : datum.label","tickOpacity":{"condition":{"test":"datum.value%2","value":0},"value":1},"gridWidth":{"condition":{"test":"datum.value%2","value":1},"value":2}}}}},{"data":{"name":"idl"},"mark":{"type":"line","color":"#FF0000","strokeWidth":1.6},"encoding":{"x":{"field":"x","type":"quantitative","axis":null},"y":{"field":"y","type":"quantitative","axis":null}}}]},
{"width":137,"height":81,"resolve":{"axis":{"x":"independent","y":"independent"}},"layer":[{"data":{"name":"s35"},"mark":{"type":"circle","size":12,"color":"#000000","opacity":1},"encoding":{"x":{"field":"x","type":"quantitative","title":null,"scale":{"domain":[-5.5,5.5],"nice":false,"zero":false},"axis":{"labelOverlap":false,"values":[-5,-3.75,-2.5,-1.25,0,1.25,2.5,3.75,5],"format":".1f","labelExpr":"datum.value%2.5 ? '' : datum.label","tickOpacity":{"condition":{"test":"datum.value%2.5","value":0},"value":1},"gridWidth":{"condition":{"test":"datum.value%2.5","value":1},"value":2}}},"y":{"field":"y","type":"quantitative","title":null,"scale":{"domain":[-3.53,6.53],"nice":false,"zero":false},"axis":{"labelOverlap":false,"values":[-3,-2,-1,0,1,2,3,4,5,6],"format":"d","labelExpr":"datum.value%2 ? '' : datum.label","tickOpacity":{"condition":{"test":"datum.value%2","value":0},"value":1},"gridWidth":{"condition":{"test":"datum.value%2","value":1},"value":2}}}}},{"data":{"name":"idl"},"mark":{"type":"line","color":"#FF0000","strokeWidth":1.6},"encoding":{"x":{"field":"x","type":"quantitative","axis":null},"y":{"field":"y","type":"quantitative","axis":null}}}]},
{"width":137,"height":81,"resolve":{"axis":{"x":"independent","y":"independent"}},"layer":[{"data":{"name":"s36"},"mark":{"type":"circle","size":12,"color":"#000000","opacity":1},"encoding":{"x":{"field":"x","type":"quantitative","title":null,"scale":{"domain":[-5.5,5.5],"nice":false,"zero":false},"axis":{"labelOverlap":false,"values":[-5,-3.75,-2.5,-1.25,0,1.25,2.5,3.75,5],"format":".1f","labelExpr":"datum.value%2.5 ? '' : datum.label","tickOpacity":{"condition":{"test":"datum.value%2.5","value":0},"value":1},"gridWidth":{"condition":{"test":"datum.value%2.5","value":1},"value":2}}},"y":{"field":"y","type":"quantitative","title":null,"scale":{"domain":[-3.53,6.53],"nice":false,"zero":false},"axis":{"labelOverlap":false,"values":[-3,-2,-1,0,1,2,3,4,5,6],"format":"d","labelExpr":"datum.value%2 ? '' : datum.label","tickOpacity":{"condition":{"test":"datum.value%2","value":0},"value":1},"gridWidth":{"condition":{"test":"datum.value%2","value":1},"value":2}}}}},{"data":{"name":"idl"},"mark":{"type":"line","color":"#FF0000","strokeWidth":1.6},"encoding":{"x":{"field":"x","type":"quantitative","axis":null},"y":{"field":"y","type":"quantitative","axis":null}}}]},

{"width":136,"height":81,"data":{"name":"h40"},"mark":{"type":"bar","color":"#595959","clip":true},"encoding":{"x":{"field":"a","type":"quantitative","title":null,"scale":{"domain":[-2.428,2.19],"nice":false,"zero":false},"axis":{"labelOverlap":false,"values":[-2,-1.5,-1,-0.5,0,0.5,1,1.5,2],"format":"d","labelExpr":"datum.value%1 ? '' : datum.label","tickOpacity":{"condition":{"test":"datum.value%1","value":0},"value":1},"gridWidth":{"condition":{"test":"datum.value%1","value":1},"value":2}}},"x2":{"field":"b"},"y":{"field":"n","type":"quantitative","title":null,"scale":{"domain":[-36,642],"nice":false,"zero":false},"axis":{"labelOverlap":false,"offset":-7,"values":[0,100,200,300,400,500,600],"format":"d","labelExpr":"datum.value%200 ? '' : datum.label","tickOpacity":{"condition":{"test":"datum.value%200","value":0},"value":1},"gridWidth":{"condition":{"test":"datum.value%200","value":1},"value":2}}},"y2":{"datum":0}}},
{"width":136,"height":81,"data":{"name":"h41"},"mark":{"type":"bar","color":"#595959","clip":true},"encoding":{"x":{"field":"a","type":"quantitative","title":null,"scale":{"domain":[-2.428,2.19],"nice":false,"zero":false},"axis":{"labelOverlap":false,"values":[-2,-1.5,-1,-0.5,0,0.5,1,1.5,2],"format":"d","labelExpr":"datum.value%1 ? '' : datum.label","tickOpacity":{"condition":{"test":"datum.value%1","value":0},"value":1},"gridWidth":{"condition":{"test":"datum.value%1","value":1},"value":2}}},"x2":{"field":"b"},"y":{"field":"n","type":"quantitative","title":null,"scale":{"domain":[-36,642],"nice":false,"zero":false},"axis":{"labelOverlap":false,"offset":-7,"values":[0,100,200,300,400,500,600],"format":"d","labelExpr":"datum.value%200 ? '' : datum.label","tickOpacity":{"condition":{"test":"datum.value%200","value":0},"value":1},"gridWidth":{"condition":{"test":"datum.value%200","value":1},"value":2}}},"y2":{"datum":0}}},
{"width":136,"height":81,"data":{"name":"h42"},"mark":{"type":"bar","color":"#595959","clip":true},"encoding":{"x":{"field":"a","type":"quantitative","title":null,"scale":{"domain":[-2.428,2.19],"nice":false,"zero":false},"axis":{"labelOverlap":false,"values":[-2,-1.5,-1,-0.5,0,0.5,1,1.5,2],"format":"d","labelExpr":"datum.value%1 ? '' : datum.label","tickOpacity":{"condition":{"test":"datum.value%1","value":0},"value":1},"gridWidth":{"condition":{"test":"datum.value%1","value":1},"value":2}}},"x2":{"field":"b"},"y":{"field":"n","type":"quantitative","title":null,"scale":{"domain":[-36,642],"nice":false,"zero":false},"axis":{"labelOverlap":false,"offset":-7,"values":[0,100,200,300,400,500,600],"format":"d","labelExpr":"datum.value%200 ? '' : datum.label","tickOpacity":{"condition":{"test":"datum.value%200","value":0},"value":1},"gridWidth":{"condition":{"test":"datum.value%200","value":1},"value":2}}},"y2":{"datum":0}}},
{"width":136,"height":81,"data":{"name":"h43"},"mark":{"type":"bar","color":"#595959","clip":true},"encoding":{"x":{"field":"a","type":"quantitative","title":null,"scale":{"domain":[-2.428,2.19],"nice":false,"zero":false},"axis":{"labelOverlap":false,"values":[-2,-1.5,-1,-0.5,0,0.5,1,1.5,2],"format":"d","labelExpr":"datum.value%1 ? '' : datum.label","tickOpacity":{"condition":{"test":"datum.value%1","value":0},"value":1},"gridWidth":{"condition":{"test":"datum.value%1","value":1},"value":2}}},"x2":{"field":"b"},"y":{"field":"n","type":"quantitative","title":null,"scale":{"domain":[-36,642],"nice":false,"zero":false},"axis":{"labelOverlap":false,"offset":-7,"values":[0,100,200,300,400,500,600],"format":"d","labelExpr":"datum.value%200 ? '' : datum.label","tickOpacity":{"condition":{"test":"datum.value%200","value":0},"value":1},"gridWidth":{"condition":{"test":"datum.value%200","value":1},"value":2}}},"y2":{"datum":0}}},
{"width":104,"height":108,"view":{"fill":"transparent","stroke":"transparent"},"data":{"values":[{"m":"MH"}]},"mark":{"type":"text"},"encoding":{"text":{"field":"m","type":"nominal"}}},
{"width":137,"height":81,"resolve":{"axis":{"x":"independent","y":"independent"}},"layer":[{"data":{"name":"s45"},"mark":{"type":"circle","size":12,"color":"#000000","opacity":1},"encoding":{"x":{"field":"x","type":"quantitative","title":null,"scale":{"domain":[-5.5,5.5],"nice":false,"zero":false},"axis":{"labelOverlap":false,"values":[-5,-3.75,-2.5,-1.25,0,1.25,2.5,3.75,5],"format":".1f","labelExpr":"datum.value%2.5 ? '' : datum.label","tickOpacity":{"condition":{"test":"datum.value%2.5","value":0},"value":1},"gridWidth":{"condition":{"test":"datum.value%2.5","value":1},"value":2}}},"y":{"field":"y","type":"quantitative","title":null,"scale":{"domain":[-3.53,6.53],"nice":false,"zero":false},"axis":{"labelOverlap":false,"values":[-3,-2,-1,0,1,2,3,4,5,6],"format":"d","labelExpr":"datum.value%2 ? '' : datum.label","tickOpacity":{"condition":{"test":"datum.value%2","value":0},"value":1},"gridWidth":{"condition":{"test":"datum.value%2","value":1},"value":2}}}}},{"data":{"name":"idl"},"mark":{"type":"line","color":"#FF0000","strokeWidth":1.6},"encoding":{"x":{"field":"x","type":"quantitative","axis":null},"y":{"field":"y","type":"quantitative","axis":null}}}]},
{"width":137,"height":81,"resolve":{"axis":{"x":"independent","y":"independent"}},"layer":[{"data":{"name":"s46"},"mark":{"type":"circle","size":12,"color":"#000000","opacity":1},"encoding":{"x":{"field":"x","type":"quantitative","title":null,"scale":{"domain":[-5.5,5.5],"nice":false,"zero":false},"axis":{"labelOverlap":false,"values":[-5,-3.75,-2.5,-1.25,0,1.25,2.5,3.75,5],"format":".1f","labelExpr":"datum.value%2.5 ? '' : datum.label","tickOpacity":{"condition":{"test":"datum.value%2.5","value":0},"value":1},"gridWidth":{"condition":{"test":"datum.value%2.5","value":1},"value":2}}},"y":{"field":"y","type":"quantitative","title":null,"scale":{"domain":[-3.53,6.53],"nice":false,"zero":false},"axis":{"labelOverlap":false,"values":[-3,-2,-1,0,1,2,3,4,5,6],"format":"d","labelExpr":"datum.value%2 ? '' : datum.label","tickOpacity":{"condition":{"test":"datum.value%2","value":0},"value":1},"gridWidth":{"condition":{"test":"datum.value%2","value":1},"value":2}}}}},{"data":{"name":"idl"},"mark":{"type":"line","color":"#FF0000","strokeWidth":1.6},"encoding":{"x":{"field":"x","type":"quantitative","axis":null},"y":{"field":"y","type":"quantitative","axis":null}}}]},

{"width":136,"height":81,"data":{"name":"h50"},"mark":{"type":"bar","color":"#595959","clip":true},"encoding":{"x":{"field":"a","type":"quantitative","title":null,"scale":{"domain":[-2.428,2.19],"nice":false,"zero":false},"axis":{"labelOverlap":false,"values":[-2,-1.5,-1,-0.5,0,0.5,1,1.5,2],"format":"d","labelExpr":"datum.value%1 ? '' : datum.label","tickOpacity":{"condition":{"test":"datum.value%1","value":0},"value":1},"gridWidth":{"condition":{"test":"datum.value%1","value":1},"value":2}}},"x2":{"field":"b"},"y":{"field":"n","type":"quantitative","title":null,"scale":{"domain":[-36,642],"nice":false,"zero":false},"axis":{"labelOverlap":false,"offset":-7,"values":[0,100,200,300,400,500,600],"format":"d","labelExpr":"datum.value%200 ? '' : datum.label","tickOpacity":{"condition":{"test":"datum.value%200","value":0},"value":1},"gridWidth":{"condition":{"test":"datum.value%200","value":1},"value":2}}},"y2":{"datum":0}}},
{"width":136,"height":81,"data":{"name":"h51"},"mark":{"type":"bar","color":"#595959","clip":true},"encoding":{"x":{"field":"a","type":"quantitative","title":null,"scale":{"domain":[-2.428,2.19],"nice":false,"zero":false},"axis":{"labelOverlap":false,"values":[-2,-1.5,-1,-0.5,0,0.5,1,1.5,2],"format":"d","labelExpr":"datum.value%1 ? '' : datum.label","tickOpacity":{"condition":{"test":"datum.value%1","value":0},"value":1},"gridWidth":{"condition":{"test":"datum.value%1","value":1},"value":2}}},"x2":{"field":"b"},"y":{"field":"n","type":"quantitative","title":null,"scale":{"domain":[-36,642],"nice":false,"zero":false},"axis":{"labelOverlap":false,"offset":-7,"values":[0,100,200,300,400,500,600],"format":"d","labelExpr":"datum.value%200 ? '' : datum.label","tickOpacity":{"condition":{"test":"datum.value%200","value":0},"value":1},"gridWidth":{"condition":{"test":"datum.value%200","value":1},"value":2}}},"y2":{"datum":0}}},
{"width":136,"height":81,"data":{"name":"h52"},"mark":{"type":"bar","color":"#595959","clip":true},"encoding":{"x":{"field":"a","type":"quantitative","title":null,"scale":{"domain":[-2.428,2.19],"nice":false,"zero":false},"axis":{"labelOverlap":false,"values":[-2,-1.5,-1,-0.5,0,0.5,1,1.5,2],"format":"d","labelExpr":"datum.value%1 ? '' : datum.label","tickOpacity":{"condition":{"test":"datum.value%1","value":0},"value":1},"gridWidth":{"condition":{"test":"datum.value%1","value":1},"value":2}}},"x2":{"field":"b"},"y":{"field":"n","type":"quantitative","title":null,"scale":{"domain":[-36,642],"nice":false,"zero":false},"axis":{"labelOverlap":false,"offset":-7,"values":[0,100,200,300,400,500,600],"format":"d","labelExpr":"datum.value%200 ? '' : datum.label","tickOpacity":{"condition":{"test":"datum.value%200","value":0},"value":1},"gridWidth":{"condition":{"test":"datum.value%200","value":1},"value":2}}},"y2":{"datum":0}}},
{"width":136,"height":81,"data":{"name":"h53"},"mark":{"type":"bar","color":"#595959","clip":true},"encoding":{"x":{"field":"a","type":"quantitative","title":null,"scale":{"domain":[-2.428,2.19],"nice":false,"zero":false},"axis":{"labelOverlap":false,"values":[-2,-1.5,-1,-0.5,0,0.5,1,1.5,2],"format":"d","labelExpr":"datum.value%1 ? '' : datum.label","tickOpacity":{"condition":{"test":"datum.value%1","value":0},"value":1},"gridWidth":{"condition":{"test":"datum.value%1","value":1},"value":2}}},"x2":{"field":"b"},"y":{"field":"n","type":"quantitative","title":null,"scale":{"domain":[-36,642],"nice":false,"zero":false},"axis":{"labelOverlap":false,"offset":-7,"values":[0,100,200,300,400,500,600],"format":"d","labelExpr":"datum.value%200 ? '' : datum.label","tickOpacity":{"condition":{"test":"datum.value%200","value":0},"value":1},"gridWidth":{"condition":{"test":"datum.value%200","value":1},"value":2}}},"y2":{"datum":0}}},
{"width":136,"height":81,"data":{"name":"h54"},"mark":{"type":"bar","color":"#595959","clip":true},"encoding":{"x":{"field":"a","type":"quantitative","title":null,"scale":{"domain":[-2.428,2.19],"nice":false,"zero":false},"axis":{"labelOverlap":false,"values":[-2,-1.5,-1,-0.5,0,0.5,1,1.5,2],"format":"d","labelExpr":"datum.value%1 ? '' : datum.label","tickOpacity":{"condition":{"test":"datum.value%1","value":0},"value":1},"gridWidth":{"condition":{"test":"datum.value%1","value":1},"value":2}}},"x2":{"field":"b"},"y":{"field":"n","type":"quantitative","title":null,"scale":{"domain":[-36,642],"nice":false,"zero":false},"axis":{"labelOverlap":false,"offset":-7,"values":[0,100,200,300,400,500,600],"format":"d","labelExpr":"datum.value%200 ? '' : datum.label","tickOpacity":{"condition":{"test":"datum.value%200","value":0},"value":1},"gridWidth":{"condition":{"test":"datum.value%200","value":1},"value":2}}},"y2":{"datum":0}}},
{"width":104,"height":108,"view":{"fill":"transparent","stroke":"transparent"},"data":{"values":[{"m":"Logistic"}]},"mark":{"type":"text"},"encoding":{"text":{"field":"m","type":"nominal"}}},
{"width":137,"height":81,"resolve":{"axis":{"x":"independent","y":"independent"}},"layer":[{"data":{"name":"s56"},"mark":{"type":"circle","size":12,"color":"#000000","opacity":1},"encoding":{"x":{"field":"x","type":"quantitative","title":null,"scale":{"domain":[-5.5,5.5],"nice":false,"zero":false},"axis":{"labelOverlap":false,"values":[-5,-3.75,-2.5,-1.25,0,1.25,2.5,3.75,5],"format":".1f","labelExpr":"datum.value%2.5 ? '' : datum.label","tickOpacity":{"condition":{"test":"datum.value%2.5","value":0},"value":1},"gridWidth":{"condition":{"test":"datum.value%2.5","value":1},"value":2}}},"y":{"field":"y","type":"quantitative","title":null,"scale":{"domain":[-3.53,6.53],"nice":false,"zero":false},"axis":{"labelOverlap":false,"values":[-3,-2,-1,0,1,2,3,4,5,6],"format":"d","labelExpr":"datum.value%2 ? '' : datum.label","tickOpacity":{"condition":{"test":"datum.value%2","value":0},"value":1},"gridWidth":{"condition":{"test":"datum.value%2","value":1},"value":2}}}}},{"data":{"name":"idl"},"mark":{"type":"line","color":"#FF0000","strokeWidth":1.6},"encoding":{"x":{"field":"x","type":"quantitative","axis":null},"y":{"field":"y","type":"quantitative","axis":null}}}]},

{"width":136,"height":81,"data":{"name":"h60"},"mark":{"type":"bar","color":"#595959","clip":true},"encoding":{"x":{"field":"a","type":"quantitative","title":null,"scale":{"domain":[-2.428,2.19],"nice":false,"zero":false},"axis":{"labelOverlap":false,"values":[-2,-1.5,-1,-0.5,0,0.5,1,1.5,2],"format":"d","labelExpr":"datum.value%1 ? '' : datum.label","tickOpacity":{"condition":{"test":"datum.value%1","value":0},"value":1},"gridWidth":{"condition":{"test":"datum.value%1","value":1},"value":2}}},"x2":{"field":"b"},"y":{"field":"n","type":"quantitative","title":null,"scale":{"domain":[-36,642],"nice":false,"zero":false},"axis":{"labelOverlap":false,"offset":-7,"values":[0,100,200,300,400,500,600],"format":"d","labelExpr":"datum.value%200 ? '' : datum.label","tickOpacity":{"condition":{"test":"datum.value%200","value":0},"value":1},"gridWidth":{"condition":{"test":"datum.value%200","value":1},"value":2}}},"y2":{"datum":0}}},
{"width":136,"height":81,"data":{"name":"h61"},"mark":{"type":"bar","color":"#595959","clip":true},"encoding":{"x":{"field":"a","type":"quantitative","title":null,"scale":{"domain":[-2.428,2.19],"nice":false,"zero":false},"axis":{"labelOverlap":false,"values":[-2,-1.5,-1,-0.5,0,0.5,1,1.5,2],"format":"d","labelExpr":"datum.value%1 ? '' : datum.label","tickOpacity":{"condition":{"test":"datum.value%1","value":0},"value":1},"gridWidth":{"condition":{"test":"datum.value%1","value":1},"value":2}}},"x2":{"field":"b"},"y":{"field":"n","type":"quantitative","title":null,"scale":{"domain":[-36,642],"nice":false,"zero":false},"axis":{"labelOverlap":false,"offset":-7,"values":[0,100,200,300,400,500,600],"format":"d","labelExpr":"datum.value%200 ? '' : datum.label","tickOpacity":{"condition":{"test":"datum.value%200","value":0},"value":1},"gridWidth":{"condition":{"test":"datum.value%200","value":1},"value":2}}},"y2":{"datum":0}}},
{"width":136,"height":81,"data":{"name":"h62"},"mark":{"type":"bar","color":"#595959","clip":true},"encoding":{"x":{"field":"a","type":"quantitative","title":null,"scale":{"domain":[-2.428,2.19],"nice":false,"zero":false},"axis":{"labelOverlap":false,"values":[-2,-1.5,-1,-0.5,0,0.5,1,1.5,2],"format":"d","labelExpr":"datum.value%1 ? '' : datum.label","tickOpacity":{"condition":{"test":"datum.value%1","value":0},"value":1},"gridWidth":{"condition":{"test":"datum.value%1","value":1},"value":2}}},"x2":{"field":"b"},"y":{"field":"n","type":"quantitative","title":null,"scale":{"domain":[-36,642],"nice":false,"zero":false},"axis":{"labelOverlap":false,"offset":-7,"values":[0,100,200,300,400,500,600],"format":"d","labelExpr":"datum.value%200 ? '' : datum.label","tickOpacity":{"condition":{"test":"datum.value%200","value":0},"value":1},"gridWidth":{"condition":{"test":"datum.value%200","value":1},"value":2}}},"y2":{"datum":0}}},
{"width":136,"height":81,"data":{"name":"h63"},"mark":{"type":"bar","color":"#595959","clip":true},"encoding":{"x":{"field":"a","type":"quantitative","title":null,"scale":{"domain":[-2.428,2.19],"nice":false,"zero":false},"axis":{"labelOverlap":false,"values":[-2,-1.5,-1,-0.5,0,0.5,1,1.5,2],"format":"d","labelExpr":"datum.value%1 ? '' : datum.label","tickOpacity":{"condition":{"test":"datum.value%1","value":0},"value":1},"gridWidth":{"condition":{"test":"datum.value%1","value":1},"value":2}}},"x2":{"field":"b"},"y":{"field":"n","type":"quantitative","title":null,"scale":{"domain":[-36,642],"nice":false,"zero":false},"axis":{"labelOverlap":false,"offset":-7,"values":[0,100,200,300,400,500,600],"format":"d","labelExpr":"datum.value%200 ? '' : datum.label","tickOpacity":{"condition":{"test":"datum.value%200","value":0},"value":1},"gridWidth":{"condition":{"test":"datum.value%200","value":1},"value":2}}},"y2":{"datum":0}}},
{"width":136,"height":81,"data":{"name":"h64"},"mark":{"type":"bar","color":"#595959","clip":true},"encoding":{"x":{"field":"a","type":"quantitative","title":null,"scale":{"domain":[-2.428,2.19],"nice":false,"zero":false},"axis":{"labelOverlap":false,"values":[-2,-1.5,-1,-0.5,0,0.5,1,1.5,2],"format":"d","labelExpr":"datum.value%1 ? '' : datum.label","tickOpacity":{"condition":{"test":"datum.value%1","value":0},"value":1},"gridWidth":{"condition":{"test":"datum.value%1","value":1},"value":2}}},"x2":{"field":"b"},"y":{"field":"n","type":"quantitative","title":null,"scale":{"domain":[-36,642],"nice":false,"zero":false},"axis":{"labelOverlap":false,"offset":-7,"values":[0,100,200,300,400,500,600],"format":"d","labelExpr":"datum.value%200 ? '' : datum.label","tickOpacity":{"condition":{"test":"datum.value%200","value":0},"value":1},"gridWidth":{"condition":{"test":"datum.value%200","value":1},"value":2}}},"y2":{"datum":0}}},
{"width":136,"height":81,"data":{"name":"h65"},"mark":{"type":"bar","color":"#595959","clip":true},"encoding":{"x":{"field":"a","type":"quantitative","title":null,"scale":{"domain":[-2.428,2.19],"nice":false,"zero":false},"axis":{"labelOverlap":false,"values":[-2,-1.5,-1,-0.5,0,0.5,1,1.5,2],"format":"d","labelExpr":"datum.value%1 ? '' : datum.label","tickOpacity":{"condition":{"test":"datum.value%1","value":0},"value":1},"gridWidth":{"condition":{"test":"datum.value%1","value":1},"value":2}}},"x2":{"field":"b"},"y":{"field":"n","type":"quantitative","title":null,"scale":{"domain":[-36,642],"nice":false,"zero":false},"axis":{"labelOverlap":false,"offset":-7,"values":[0,100,200,300,400,500,600],"format":"d","labelExpr":"datum.value%200 ? '' : datum.label","tickOpacity":{"condition":{"test":"datum.value%200","value":0},"value":1},"gridWidth":{"condition":{"test":"datum.value%200","value":1},"value":2}}},"y2":{"datum":0}}},
{"width":104,"height":108,"view":{"fill":"transparent","stroke":"transparent"},"data":{"values":[{"m":"Bayesian"}]},"mark":{"type":"text"},"encoding":{"text":{"field":"m","type":"nominal"}}}
]
}
